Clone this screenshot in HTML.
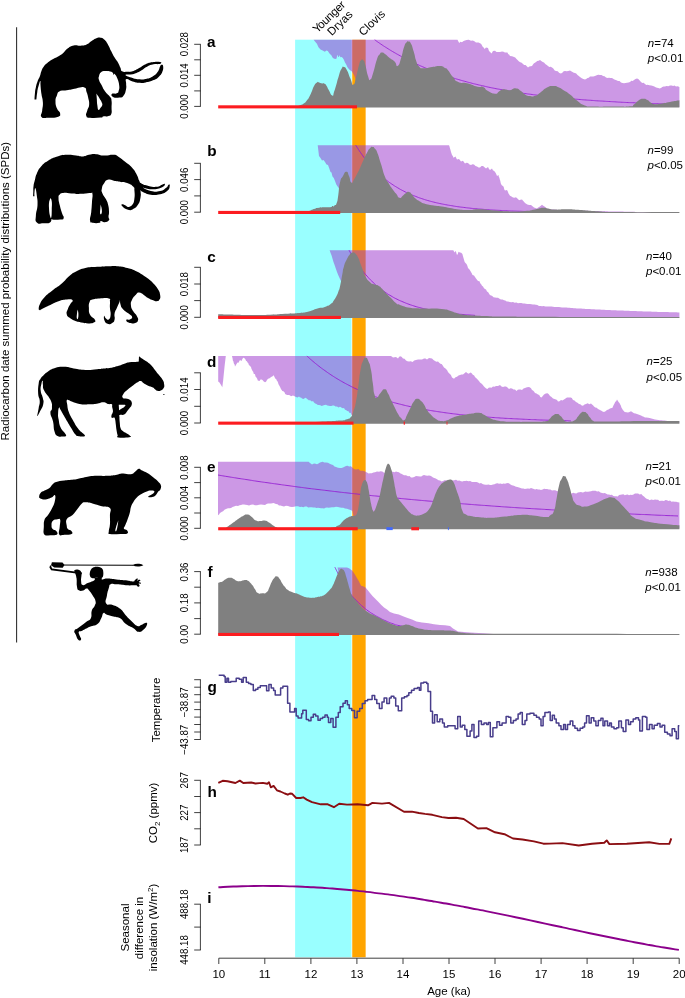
<!DOCTYPE html>
<html lang="en"><head><meta charset="utf-8"><title>Radiocarbon SPDs</title>
<style>html,body{margin:0;padding:0;background:#fff}svg{display:block}</style>
</head><body>
<svg width="685" height="998" viewBox="0 0 685 998" font-family="Liberation Sans, Arial, Helvetica, sans-serif">
<rect width="685" height="998" fill="#fff"/>
<rect x="295.1" y="39.7" width="56.4" height="917.6" fill="rgb(153,255,255)"/>
<rect x="352.25" y="39.7" width="13.4" height="917.6" fill="rgb(255,165,0)"/>
<g id="panel-a">
<polygon points="313.6,39.8 457.5,39.8 457.5,39.8 458.4,41.5 459.2,42.9 460.5,41.8 462.0,42.2 463.6,41.0 465.0,40.6 466.5,39.9 468.8,39.8 471.0,40.8 472.5,40.4 474.0,41.0 476.0,42.4 478.5,42.6 481.0,43.8 481.8,45.1 482.5,46.5 483.6,47.4 484.6,49.0 486.0,47.6 488.0,48.0 488.8,50.4 489.5,51.6 491.6,53.4 493.0,51.0 495.0,50.8 496.5,52.1 498.0,52.0 500.0,51.9 502.0,51.6 503.5,51.7 505.0,52.6 507.4,52.5 508.3,54.3 509.1,54.6 510.0,56.0 512.0,56.3 514.0,57.0 515.2,57.4 516.5,59.0 517.8,60.3 519.0,61.4 520.3,62.3 521.7,62.7 523.0,64.0 524.2,64.9 525.5,65.0 526.8,66.2 528.0,67.4 529.3,66.4 530.7,66.3 532.0,66.0 533.0,64.4 534.0,63.3 535.0,62.7 536.0,62.0 537.3,61.0 538.7,60.8 540.0,60.0 541.3,60.9 542.7,62.0 544.0,62.5 545.3,63.9 546.7,65.1 548.0,66.0 549.3,67.0 550.7,66.8 552.0,67.4 553.3,68.4 554.7,70.5 556.0,71.0 557.7,71.3 559.3,72.9 561.0,73.4 562.3,72.8 563.7,71.2 565.0,71.0 566.7,71.3 568.3,71.1 570.0,70.4 571.2,71.2 572.5,72.0 573.8,72.8 575.0,73.0 576.2,73.5 577.5,75.0 578.8,76.0 580.0,77.0 581.7,78.3 583.3,79.0 585.0,79.4 586.2,79.1 587.5,78.1 588.8,77.8 590.0,76.5 591.7,76.6 593.3,76.4 595.0,76.0 596.7,75.3 598.3,74.7 600.0,75.0 601.5,75.1 603.0,76.1 604.5,76.3 606.0,77.5 607.5,78.1 609.0,77.8 610.5,78.1 612.0,78.0 613.5,78.9 615.0,79.8 616.5,80.2 618.0,81.0 619.5,80.9 621.0,82.6 622.5,83.1 624.0,83.3 625.5,83.0 627.0,82.7 628.5,82.5 630.0,82.0 631.3,80.7 632.7,81.0 634.0,80.0 635.5,78.9 637.0,78.5 638.3,79.1 639.7,80.5 641.0,82.0 642.3,82.9 643.6,82.7 645.0,84.0 646.3,84.9 647.6,84.8 649.4,85.2 651.2,85.4 653.0,86.0 654.3,86.5 655.6,87.2 657.0,87.8 658.3,88.1 659.6,88.4 661.0,88.1 662.3,86.9 663.6,86.5 665.0,86.5 666.6,85.9 668.3,86.3 670.0,85.4 671.6,85.4 673.1,85.9 674.5,85.5 676.0,86.5 677.7,86.2 679.4,87.0 679.4,107.0 358.0,107.0 356.0,80.0 354.0,75.0 351.9,71.5 350.5,70.6 349.0,69.3 347.5,67.2 346.1,64.2 345.0,62.6 343.9,59.8 342.8,58.0 341.7,56.9 340.4,57.2 339.6,55.2 338.8,56.9 338.2,57.0 337.4,54.7 337.0,56.0 336.6,58.4 335.3,59.0 333.7,58.4 332.5,57.6 331.5,55.4 329.5,53.6 327.8,51.0 326.3,50.4 324.9,51.8 322.6,50.4 320.5,49.6 318.5,47.2 316.9,43.8 315.0,41.5 313.6,39.8" fill="rgb(153,50,204)" fill-opacity="0.5"/>
<path d="M374.7,39.8 C376.7,41.2 376.7,41.3 380.7,44.0 C384.7,46.7 382.7,45.4 386.7,47.9 C390.7,50.4 388.7,49.2 392.7,51.6 C396.7,53.9 394.7,52.8 398.7,55.0 C402.7,57.2 400.7,56.2 404.7,58.3 C408.7,60.3 406.7,59.3 410.7,61.3 C414.7,63.2 412.7,62.3 416.7,64.1 C420.7,66.0 418.7,65.1 422.7,66.8 C426.7,68.5 424.7,67.7 428.7,69.3 C432.7,70.9 430.7,70.1 434.7,71.6 C438.7,73.2 436.7,72.4 440.7,73.8 C444.7,75.3 442.7,74.6 446.7,75.9 C450.7,77.2 448.7,76.6 452.7,77.8 C456.7,79.1 454.7,78.5 458.7,79.6 C462.7,80.8 460.7,80.2 464.7,81.3 C468.7,82.4 466.7,81.9 470.7,82.9 C474.7,84.0 472.7,83.5 476.7,84.4 C480.7,85.4 478.7,84.9 482.7,85.8 C486.7,86.7 484.7,86.3 488.7,87.2 C492.7,88.0 490.7,87.6 494.7,88.4 C498.7,89.2 496.7,88.8 500.7,89.5 C504.7,90.3 502.7,89.9 506.7,90.6 C510.7,91.3 508.7,91.0 512.7,91.7 C516.7,92.3 514.7,92.0 518.7,92.6 C522.7,93.2 520.7,92.9 524.7,93.5 C528.7,94.1 526.7,93.8 530.7,94.3 C534.7,94.9 532.7,94.6 536.7,95.1 C540.7,95.6 538.7,95.4 542.7,95.9 C546.7,96.3 544.7,96.1 548.7,96.6 C552.7,97.0 550.7,96.8 554.7,97.2 C558.7,97.6 556.7,97.4 560.7,97.8 C564.7,98.2 562.7,98.0 566.7,98.4 C570.7,98.8 568.7,98.6 572.7,98.9 C576.7,99.3 574.7,99.1 578.7,99.4 C582.7,99.7 580.7,99.6 584.7,99.9 C588.7,100.2 586.7,100.1 590.7,100.3 C594.7,100.6 592.7,100.5 596.7,100.8 C600.7,101.0 598.7,100.9 602.7,101.1 C606.7,101.4 604.7,101.3 608.7,101.5 C612.7,101.7 610.7,101.6 614.7,101.8 C618.7,102.1 616.7,102.0 620.7,102.2 C624.7,102.4 622.7,102.3 626.7,102.5 C630.7,102.7 628.7,102.6 632.7,102.7 C636.7,102.9 634.7,102.8 638.7,103.0 C642.7,103.2 640.7,103.1 644.7,103.3 C648.7,103.4 646.7,103.3 650.7,103.5 C654.7,103.6 652.7,103.6 656.7,103.7 C660.7,103.9 658.7,103.8 662.7,103.9 C666.7,104.0 664.7,104.0 668.7,104.1 C672.7,104.2 672.7,104.2 674.7,104.3" fill="none" stroke="rgb(148,30,211)" stroke-width="0.9"/>
<path d="M297.0,106.5 C297.8,106.2 297.1,106.5 299.4,105.6 C301.7,104.6 301.3,105.3 303.8,103.6 C306.3,101.9 304.9,103.0 306.8,100.6 C308.7,98.2 307.9,99.5 309.6,96.3 C311.3,93.1 310.5,94.4 312.0,91.0 C313.5,87.6 312.4,89.0 314.0,86.1 C315.6,83.2 315.2,83.6 316.9,82.4 C318.6,81.2 317.5,82.1 319.0,82.4 C320.5,82.7 319.3,82.7 321.3,83.2 C323.3,83.7 323.1,82.9 324.9,83.9 C326.7,84.9 325.6,84.3 326.8,86.2 C328.0,88.1 326.8,86.6 328.6,89.7 C330.4,92.8 330.4,94.8 332.2,95.6 C334.0,96.4 332.8,95.2 334.0,92.0 C335.2,88.8 334.3,91.5 335.9,86.1 C337.5,80.7 336.9,81.7 338.8,75.9 C340.7,70.1 340.0,71.5 341.7,68.6 C343.4,65.7 342.2,66.6 343.9,67.1 C345.6,67.6 344.6,66.1 346.8,70.0 C349.0,73.9 348.3,73.9 350.5,78.8 C352.7,83.7 351.5,85.6 353.4,84.6 C355.3,83.6 354.4,82.7 356.3,75.9 C358.2,69.1 357.7,69.3 359.2,64.2 C360.7,59.1 359.8,62.2 360.8,60.6 C361.8,59.0 361.3,59.5 362.2,59.5 C363.1,59.5 362.6,59.0 363.6,60.6 C364.6,62.2 363.6,59.1 365.1,64.2 C366.6,69.3 366.3,70.8 368.0,75.9 C369.7,81.0 368.5,80.5 370.2,79.5 C371.9,78.5 370.9,79.6 373.1,73.0 C375.3,66.4 374.7,65.9 376.8,59.8 C378.9,53.7 377.8,57.0 379.5,54.6 C381.2,52.2 380.1,52.7 381.9,52.5 C383.7,52.3 382.8,52.5 385.0,54.0 C387.2,55.5 386.1,55.0 388.4,56.9 C390.7,58.8 389.8,57.9 392.0,59.6 C394.2,61.3 393.0,60.0 395.0,62.0 C397.0,64.0 395.8,67.4 397.9,65.7 C400.0,64.0 399.4,63.0 401.4,56.9 C403.4,50.8 402.3,52.1 404.0,47.3 C405.7,42.5 404.9,44.5 406.4,42.6 C407.9,40.7 406.9,41.2 408.4,41.6 C409.9,42.0 409.2,40.5 411.0,43.8 C412.8,47.1 411.9,45.8 413.7,51.6 C415.5,57.4 414.6,56.4 416.3,61.3 C418.0,66.2 416.6,63.9 418.9,66.2 C421.2,68.5 418.9,68.0 423.3,68.3 C427.7,68.6 426.4,67.8 432.0,67.0 C437.6,66.2 435.7,65.7 440.0,66.0 C444.3,66.3 442.4,66.7 445.0,68.0 C447.6,69.3 445.1,67.0 447.8,70.0 C450.5,73.0 449.5,73.0 453.0,77.0 C456.5,81.0 453.6,79.9 458.3,82.0 C463.0,84.1 460.6,81.6 467.0,83.2 C473.4,84.8 472.3,85.4 477.6,86.7 C482.9,88.0 479.5,85.6 483.0,87.0 C486.5,88.4 484.0,88.8 488.0,91.0 C492.0,93.2 491.3,93.5 495.0,93.7 C498.7,93.9 496.7,92.8 499.0,91.5 C501.3,90.2 499.7,90.3 502.0,89.7 C504.3,89.1 503.3,89.4 506.0,89.6 C508.7,89.8 506.7,90.6 510.0,90.2 C513.3,89.8 512.3,88.1 516.0,88.4 C519.7,88.7 518.0,89.0 521.0,91.0 C524.0,93.0 522.0,92.7 525.0,94.4 C528.0,96.1 526.5,95.5 530.0,96.0 C533.5,96.5 531.7,97.1 535.4,95.8 C539.1,94.5 537.1,94.8 541.0,92.0 C544.9,89.2 542.9,89.5 547.0,87.5 C551.1,85.5 549.3,86.0 553.3,86.0 C557.3,86.0 555.4,86.0 559.0,87.5 C562.6,89.0 560.3,88.2 564.0,90.5 C567.7,92.8 565.7,91.1 570.0,94.4 C574.3,97.7 572.1,96.8 577.0,100.5 C581.9,104.2 579.2,103.4 584.8,105.4 C590.4,107.4 583.6,106.1 593.7,106.5 C603.8,106.8 603.0,106.5 615.0,106.5 C627.0,106.4 623.4,107.0 629.7,106.3 C636.0,105.6 631.1,106.4 634.0,104.5 C636.9,102.6 635.5,102.4 638.5,100.5 C641.5,98.6 640.0,99.0 643.0,98.8 C646.0,98.6 644.8,98.7 647.5,100.0 C650.2,101.3 648.5,101.4 651.0,102.8 C653.5,104.2 651.3,104.0 655.0,104.2 C658.7,104.4 657.0,104.2 662.0,103.5 C667.0,102.8 664.2,103.1 670.0,102.0 C675.8,100.9 676.3,100.9 679.4,100.3 L679.4,107.4 L297.0,107.4 Z" fill="rgb(128,128,128)"/>
<rect x="218.2" y="105.3" width="138.8" height="3.1" fill="rgb(252,28,32)"/>
</g>
<g id="panel-b">
<polygon points="317.7,145.2 449.0,145.2 449.0,145.2 449.5,146.5 450.0,148.6 450.5,150.0 451.0,151.9 451.5,153.6 452.0,155.0 452.8,156.1 453.5,157.7 455.5,156.5 456.2,158.0 457.0,159.5 459.0,159.0 460.0,160.2 461.0,161.5 463.0,160.8 464.0,162.2 465.0,163.6 466.5,162.8 468.0,163.0 469.5,164.6 471.0,165.0 472.5,164.3 474.0,164.4 475.5,166.1 477.0,166.5 478.5,167.6 480.0,167.4 481.5,166.0 483.0,166.0 484.5,167.2 486.0,168.5 488.0,167.0 489.0,168.9 490.0,170.0 492.0,168.6 493.0,170.4 494.0,170.8 495.0,172.0 495.7,173.0 496.3,174.3 497.0,176.0 498.5,175.0 498.9,177.1 499.3,177.6 499.8,179.6 500.2,180.5 500.6,182.5 501.0,184.0 502.0,185.6 503.0,186.0 503.7,187.0 504.3,189.4 505.0,190.5 507.0,190.0 507.8,191.5 508.5,193.4 509.2,194.6 510.0,195.8 511.5,196.5 513.0,197.6 514.5,197.7 516.0,197.2 517.0,198.2 518.0,199.0 519.0,200.3 520.5,199.7 522.0,199.6 523.0,200.7 524.0,201.8 525.0,203.0 526.5,203.9 528.0,204.8 529.5,204.9 531.0,205.0 532.5,206.3 534.0,207.6 535.5,208.0 537.0,208.4 538.2,207.6 539.5,206.8 540.8,205.8 542.0,204.8 543.2,205.7 544.5,206.5 545.8,207.6 547.0,208.6 549.0,209.3 550.6,209.4 552.1,209.5 553.7,209.6 555.3,209.7 556.9,209.8 558.4,209.9 560.0,210.0 561.4,210.0 562.9,210.1 564.3,210.1 565.7,210.2 567.1,210.2 568.6,210.3 570.0,210.3 571.4,210.3 572.9,210.4 574.3,210.4 575.7,210.5 577.1,210.5 578.6,210.6 580.0,210.6 581.4,210.6 582.9,210.7 584.3,210.7 585.7,210.8 587.1,210.8 588.6,210.8 590.0,210.9 591.4,210.9 592.9,210.9 594.3,211.0 595.7,211.0 597.1,211.1 598.6,211.1 600.0,211.1 601.4,211.2 602.9,211.2 604.3,211.2 605.7,211.3 607.1,211.3 608.6,211.4 610.0,211.4 611.4,211.4 612.8,211.5 614.3,211.5 615.7,211.5 617.1,211.5 618.5,211.6 619.9,211.6 621.3,211.6 622.8,211.6 624.2,211.7 625.6,211.7 627.0,211.7 628.4,211.7 629.8,211.8 631.3,211.8 632.7,211.8 634.1,211.8 635.5,211.9 636.9,211.9 638.3,211.9 639.8,211.9 641.2,212.0 642.6,212.0 644.0,212.0 645.4,212.0 646.8,212.1 648.3,212.1 649.7,212.1 651.1,212.1 652.5,212.2 653.9,212.2 655.3,212.2 656.8,212.2 658.2,212.3 659.6,212.3 679.4,212.6 341.0,212.6 339.5,189.0 338.0,187.0 336.3,184.5 335.0,181.0 333.8,178.0 332.5,176.5 331.5,172.5 330.5,172.0 329.3,168.5 328.0,165.0 326.5,164.6 325.0,162.0 323.5,160.0 322.0,160.5 320.5,158.0 319.0,156.0 318.3,150.0 317.7,145.2" fill="rgb(153,50,204)" fill-opacity="0.5"/>
<path d="M355.7,145.2 C357.7,148.2 357.7,148.6 361.7,154.2 C365.7,159.8 363.7,157.1 367.7,161.9 C371.7,166.8 369.7,164.5 373.7,168.7 C377.7,172.9 375.7,170.9 379.7,174.5 C383.7,178.2 381.7,176.4 385.7,179.6 C389.7,182.7 387.7,181.3 391.7,184.0 C395.7,186.7 393.7,185.4 397.7,187.8 C401.7,190.2 399.7,189.0 403.7,191.1 C407.7,193.2 405.7,192.2 409.7,194.0 C413.7,195.7 411.7,194.9 415.7,196.4 C419.7,198.0 417.7,197.3 421.7,198.6 C425.7,199.9 423.7,199.3 427.7,200.5 C431.7,201.6 429.7,201.1 433.7,202.1 C437.7,203.1 435.7,202.6 439.7,203.5 C443.7,204.3 441.7,203.9 445.7,204.7 C449.7,205.4 447.7,205.1 451.7,205.7 C455.7,206.4 453.7,206.1 457.7,206.7 C461.7,207.2 459.7,207.0 463.7,207.4 C467.7,207.9 465.7,207.7 469.7,208.1 C473.7,208.6 471.7,208.4 475.7,208.7 C479.7,209.1 477.7,208.9 481.7,209.2 C485.7,209.6 483.7,209.4 487.7,209.7 C491.7,210.0 489.7,209.8 493.7,210.1 C497.7,210.3 495.7,210.2 499.7,210.4 C503.7,210.6 501.7,210.5 505.7,210.7 C509.7,210.9 507.7,210.8 511.7,211.0 C515.7,211.1 513.7,211.0 517.7,211.2 C521.7,211.3 519.7,211.2 523.7,211.4 C527.7,211.5 525.7,211.4 529.7,211.5 C533.7,211.6 531.7,211.6 535.7,211.7 C539.7,211.8 537.7,211.7 541.7,211.8 C545.7,211.9 543.7,211.8 547.7,211.9 C551.7,212.0 549.7,211.9 553.7,212.0 C557.7,212.1 555.7,212.0 559.7,212.1 C563.7,212.1 561.7,212.1 565.7,212.1 C569.7,212.2 567.7,212.2 571.7,212.2 C575.7,212.2 573.7,212.2 577.7,212.3 C581.7,212.3 579.7,212.3 583.7,212.3 C587.7,212.3 585.7,212.3 589.7,212.3 C593.7,212.4 593.7,212.4 595.7,212.4" fill="none" stroke="rgb(148,30,211)" stroke-width="0.9"/>
<path d="M305.0,212.0 C306.3,211.7 306.0,212.0 309.0,211.0 C312.0,210.0 310.7,210.1 314.0,209.0 C317.3,207.9 315.3,208.3 319.0,207.7 C322.7,207.1 321.0,207.4 325.0,207.2 C329.0,207.0 327.8,207.6 331.0,207.0 C334.2,206.4 332.6,206.8 334.5,205.5 C336.4,204.2 335.4,206.5 336.7,203.0 C338.0,199.5 337.2,201.8 338.3,195.0 C339.4,188.2 338.4,188.8 340.0,182.5 C341.6,176.2 340.9,179.6 343.0,176.0 C345.1,172.4 344.4,171.8 346.4,171.8 C348.4,171.8 347.4,172.4 349.0,176.0 C350.6,179.6 349.6,181.3 351.3,182.5 C353.0,183.7 352.1,182.3 354.0,179.5 C355.9,176.7 355.0,177.8 357.0,174.0 C359.0,170.2 357.8,172.8 360.0,168.0 C362.2,163.2 361.2,164.8 363.7,159.5 C366.2,154.2 365.3,155.7 367.4,152.0 C369.5,148.3 368.3,150.0 370.0,148.3 C371.7,146.6 370.9,146.8 372.6,147.0 C374.3,147.2 373.3,146.7 375.0,148.8 C376.7,150.9 375.6,148.3 377.6,153.4 C379.6,158.5 378.5,156.2 381.0,164.0 C383.5,171.8 382.5,170.4 385.0,176.7 C387.5,183.0 386.2,179.1 388.5,183.0 C390.8,186.9 389.5,184.9 392.0,188.4 C394.5,191.9 393.5,190.4 396.0,193.5 C398.5,196.6 397.2,197.0 399.5,197.7 C401.8,198.4 400.8,197.1 403.0,195.5 C405.2,193.9 404.0,194.2 406.0,193.0 C408.0,191.8 407.0,191.5 409.0,192.0 C411.0,192.5 409.8,192.3 412.0,194.5 C414.2,196.7 412.8,196.3 415.5,198.6 C418.2,200.9 417.1,199.8 420.0,201.5 C422.9,203.2 420.3,202.3 424.3,203.6 C428.3,204.9 426.2,204.3 432.0,205.3 C437.8,206.3 435.8,205.6 441.8,206.5 C447.8,207.4 444.3,207.0 450.0,208.0 C455.7,209.0 452.3,208.7 459.0,209.4 C465.7,210.1 463.0,210.0 470.0,210.0 C477.0,210.0 471.7,209.1 480.0,209.3 C488.3,209.5 485.0,209.9 495.0,210.6 C505.0,211.3 500.0,211.3 510.0,211.4 C520.0,211.5 516.7,211.6 525.0,211.0 C533.3,210.4 529.0,210.6 535.0,209.5 C541.0,208.4 538.7,208.1 543.0,207.8 C547.3,207.5 544.0,207.9 548.0,208.5 C552.0,209.1 548.7,209.3 555.0,209.6 C561.3,209.9 558.7,209.2 567.0,209.3 C575.3,209.4 569.0,209.3 580.0,210.0 C591.0,210.7 586.7,210.7 600.0,211.4 C613.3,212.1 593.5,211.8 620.0,212.0 C646.5,212.3 659.6,212.0 679.4,212.0 L679.4,213.0 L305.0,213.0 Z" fill="rgb(128,128,128)"/>
<rect x="218.2" y="210.9" width="122.0" height="3.1" fill="rgb(252,28,32)"/>
</g>
<g id="panel-c">
<polygon points="329.6,250.2 453.3,250.2 453.3,250.2 454.5,252.5 455.5,251.0 456.0,251.7 456.5,253.4 457.0,255.0 457.8,254.1 458.5,251.8 460.0,252.5 461.2,252.7 462.4,254.0 462.9,256.0 463.5,258.0 464.0,259.7 464.5,261.5 465.0,262.5 466.5,264.0 467.0,264.9 467.5,266.3 468.0,268.0 469.5,269.5 470.7,271.6 471.6,272.9 472.5,275.0 474.0,275.5 475.0,276.9 476.0,278.6 477.0,279.7 478.0,281.0 479.5,281.2 480.2,283.2 481.0,284.0 482.0,285.7 483.0,286.5 484.0,288.3 485.0,289.0 486.0,289.6 487.0,291.5 488.2,292.3 489.5,294.5 490.8,295.4 492.0,295.8 493.5,297.3 495.0,297.6 496.5,297.7 498.0,297.8 499.5,298.8 501.0,299.6 502.5,299.4 504.0,300.2 505.3,300.6 506.7,301.5 508.0,301.6 509.7,302.0 511.3,302.2 513.0,302.0 514.7,302.8 516.3,302.6 518.0,303.2 519.7,303.0 521.3,303.1 523.0,303.4 524.4,303.5 525.8,303.8 527.2,304.1 528.6,304.0 530.0,304.0 531.5,304.3 532.9,304.6 534.4,304.6 535.8,304.8 537.3,305.0 539.0,306.0 540.6,305.9 542.1,306.3 543.7,306.1 545.3,306.5 546.9,306.5 548.4,306.4 550.0,306.6 551.5,306.6 553.0,306.7 554.5,307.0 556.0,307.1 557.5,307.0 559.0,307.1 560.5,307.3 562.0,307.4 563.5,307.5 565.0,307.6 566.5,307.6 567.9,307.8 569.4,307.7 570.9,307.9 572.3,308.1 573.8,308.3 575.3,308.3 576.7,308.4 578.2,308.4 579.7,308.5 581.1,308.6 582.6,308.8 584.1,308.8 585.5,308.9 587.0,309.0 588.4,309.0 589.9,309.1 591.3,309.2 592.8,309.3 594.2,309.3 595.6,309.4 597.1,309.5 598.5,309.5 599.9,309.6 601.4,309.7 602.8,309.7 604.2,309.8 605.7,309.9 607.1,310.0 608.6,310.0 610.0,310.1 611.4,310.2 612.9,310.2 614.3,310.3 615.8,310.3 617.2,310.4 618.6,310.4 620.1,310.5 621.5,310.6 622.9,310.6 624.4,310.7 625.8,310.7 627.2,310.8 628.7,310.8 630.1,310.9 631.6,310.9 633.0,311.0 634.5,311.1 635.9,311.1 637.4,311.2 638.9,311.2 640.3,311.3 641.8,311.3 643.3,311.4 644.7,311.4 646.2,311.5 647.7,311.5 649.1,311.6 650.6,311.6 652.1,311.7 653.5,311.7 655.0,311.8 656.4,311.8 657.9,311.9 659.3,311.9 660.7,311.9 662.2,312.0 663.6,312.0 665.0,312.0 666.5,312.1 667.9,312.1 669.4,312.2 670.8,312.2 672.2,312.2 673.7,312.3 675.1,312.3 676.5,312.3 678.0,312.4 679.4,312.4 679.4,317.6 343.0,317.6 341.5,282.0 340.0,279.0 338.2,275.0 337.0,272.0 335.8,268.5 334.6,265.0 333.5,262.0 332.6,259.0 331.6,255.6 330.6,253.0 329.6,250.2" fill="rgb(153,50,204)" fill-opacity="0.5"/>
<path d="M349.0,250.2 C351.0,253.6 351.0,254.1 355.0,260.3 C359.0,266.5 357.0,263.6 361.0,268.9 C365.0,274.1 363.0,271.6 367.0,276.1 C371.0,280.6 369.0,278.5 373.0,282.3 C377.0,286.2 375.0,284.4 379.0,287.6 C383.0,290.9 381.0,289.3 385.0,292.1 C389.0,294.9 387.0,293.6 391.0,295.9 C395.0,298.3 393.0,297.2 397.0,299.2 C401.0,301.2 399.0,300.2 403.0,301.9 C407.0,303.6 405.0,302.8 409.0,304.3 C413.0,305.7 411.0,305.0 415.0,306.3 C419.0,307.5 417.0,306.9 421.0,308.0 C425.0,309.0 423.0,308.5 427.0,309.4 C431.0,310.3 429.0,309.9 433.0,310.6 C437.0,311.4 435.0,311.0 439.0,311.7 C443.0,312.3 441.0,312.0 445.0,312.6 C449.0,313.1 447.0,312.8 451.0,313.3 C455.0,313.8 453.0,313.6 457.0,314.0 C461.0,314.3 459.0,314.2 463.0,314.5 C467.0,314.8 465.0,314.7 469.0,315.0 C473.0,315.2 473.0,315.2 475.0,315.4" fill="none" stroke="rgb(148,30,211)" stroke-width="0.9"/>
<path d="M218.2,314.2 C222.1,314.3 222.1,314.3 230.0,314.6 C237.9,314.9 233.3,314.9 242.0,315.0 C250.7,315.1 246.7,315.1 256.0,315.0 C265.3,314.9 260.3,315.2 270.0,314.8 C279.7,314.4 276.0,314.3 285.0,313.8 C294.0,313.3 292.0,313.5 297.0,313.2 C302.0,312.9 296.1,313.5 300.0,312.9 C303.9,312.3 303.0,312.9 308.8,311.4 C314.6,309.9 312.2,310.0 317.5,308.5 C322.8,307.0 320.4,308.5 324.8,307.0 C329.2,305.5 327.7,306.2 330.7,304.1 C333.7,302.0 331.9,303.3 333.8,300.6 C335.7,297.9 335.0,299.1 336.5,296.1 C338.0,293.1 337.2,294.9 338.4,291.5 C339.6,288.1 338.8,291.7 340.1,285.9 C341.4,280.1 341.1,280.5 342.3,274.2 C343.5,267.9 342.3,271.8 343.8,266.9 C345.3,262.0 344.5,264.0 346.7,259.6 C348.9,255.2 348.5,256.1 350.4,253.8 C352.3,251.5 351.1,253.2 352.3,252.8 C353.5,252.4 352.7,252.0 354.0,252.6 C355.3,253.2 354.7,252.7 356.2,254.5 C357.7,256.3 356.9,254.9 358.4,258.1 C359.9,261.3 359.1,260.1 360.6,264.0 C362.1,267.9 361.1,265.4 362.8,269.8 C364.5,274.2 363.3,273.0 365.7,277.1 C368.1,281.2 367.7,279.9 370.1,282.2 C372.5,284.5 370.1,282.9 373.0,284.1 C375.9,285.3 375.9,284.4 378.8,285.9 C381.7,287.4 379.8,286.6 381.8,288.5 C383.8,290.4 381.8,288.7 384.7,291.7 C387.6,294.7 386.6,293.7 390.5,297.6 C394.4,301.5 393.2,301.0 396.4,303.4 C399.6,305.8 395.5,303.4 400.0,304.9 C404.5,306.4 404.3,306.7 410.0,307.8 C415.7,308.9 412.0,308.0 417.0,308.3 C422.0,308.6 416.8,308.4 425.0,308.6 C433.2,308.8 433.3,308.3 441.6,309.0 C449.9,309.7 445.2,309.4 450.0,310.7 C454.8,312.0 451.9,311.5 456.0,312.8 C460.1,314.1 456.1,313.6 462.4,314.5 C468.7,315.4 465.8,315.0 475.0,315.6 C484.2,316.2 480.3,315.9 490.0,316.2 C499.7,316.5 480.7,316.3 504.0,316.5 C527.3,316.7 501.5,316.7 560.0,316.9 C618.5,317.1 639.6,317.0 679.4,317.1 L679.4,318.0 L218.2,318.0 Z" fill="rgb(128,128,128)"/>
<rect x="218.2" y="315.9" width="122.7" height="3.1" fill="rgb(252,28,32)"/>
</g>
<g id="panel-d">
<polygon points="218.2,356.0 218.2,381.5 219.5,382.5 221.0,385.0 222.3,387.2 223.2,380.0 224.6,366.0 225.8,356.0" fill="rgb(153,50,204)" fill-opacity="0.5"/>
<polygon points="232.0,356.0 232.2,356.9 232.5,357.9 232.8,360.0 233.0,361.0 233.4,361.3 233.8,363.3 234.2,364.1 234.6,364.6 235.0,366.5 235.8,365.3 236.5,364.0 237.5,362.6 238.5,362.8 239.2,361.3 240.0,360.0 241.5,361.0 242.3,359.2 243.0,358.1 243.8,357.8 244.7,358.6 245.5,359.6 246.2,361.2 246.8,360.9 247.5,362.5 248.2,363.0 248.8,364.7 249.5,365.4 251.0,367.0 251.5,369.1 252.0,369.8 252.5,371.0 253.2,371.8 253.8,373.9 254.5,374.0 255.0,374.2 255.5,376.6 256.0,377.0 256.6,377.8 257.2,378.7 257.8,380.5 259.5,381.0 260.5,379.6 261.5,379.6 262.5,380.1 263.5,381.2 265.0,382.3 266.0,381.7 267.0,380.0 268.0,378.7 269.0,378.6 270.0,377.9 271.0,377.0 272.3,376.4 273.6,375.3 274.3,376.4 275.0,378.0 275.7,379.1 276.3,379.2 277.0,381.0 277.5,381.2 278.0,382.5 278.5,384.3 279.0,385.0 279.5,385.9 280.0,386.7 280.5,388.0 281.1,389.2 281.7,389.9 282.3,391.0 283.4,391.2 284.5,392.2 285.2,393.9 286.0,394.5 287.2,395.1 288.5,395.0 289.8,395.2 291.0,396.3 293.0,395.4 294.0,396.1 295.0,396.5 296.0,397.0 297.5,397.4 299.0,396.4 300.0,397.5 301.0,397.4 302.0,398.4 303.5,399.1 305.0,398.0 306.0,397.8 307.0,398.9 308.0,399.6 309.0,400.5 310.0,399.9 311.0,401.0 312.0,401.4 313.0,401.1 314.0,402.4 315.2,403.5 316.5,404.0 317.8,405.0 319.0,405.0 320.3,405.3 321.7,406.1 323.0,405.6 324.5,404.9 326.0,404.8 327.3,405.6 328.7,405.8 330.0,406.0 331.3,405.9 332.7,405.5 334.0,405.4 335.5,406.6 337.0,406.6 338.5,407.5 340.0,406.8 341.0,407.2 342.0,408.0 343.0,408.2 344.0,408.0 345.0,409.8 346.0,410.0 347.2,410.9 348.5,411.3 349.6,412.9 350.7,412.8 351.4,414.7 352.0,415.5 352.8,416.1 353.5,417.5 353.9,418.6 354.2,420.4 354.6,420.5 355.0,422.6 679.4,422.6 679.4,421.7 677.9,421.6 676.4,421.5 675.0,421.5 673.5,421.4 672.0,421.3 670.5,421.1 669.0,421.0 667.5,420.9 666.0,420.7 664.5,420.6 663.0,420.4 661.5,420.3 660.0,420.2 658.3,419.9 656.7,419.7 655.0,419.4 653.2,418.9 651.4,418.5 649.6,418.0 648.1,417.8 646.5,417.6 645.0,417.4 643.7,416.8 642.3,416.2 641.0,415.6 639.7,415.0 638.3,414.5 637.0,414.0 635.5,413.5 634.0,413.2 632.5,412.3 631.0,411.2 629.5,411.9 628.0,412.4 626.4,412.3 624.7,412.0 623.8,411.0 622.9,410.0 622.0,408.5 621.4,407.4 620.8,405.5 620.1,404.2 619.5,403.0 618.7,402.2 617.8,400.7 617.0,399.5 616.2,401.2 615.3,401.7 614.5,403.5 613.8,404.8 613.2,406.1 612.5,407.8 610.0,408.6 608.5,409.4 607.0,410.0 605.5,411.2 604.0,412.0 602.5,411.5 601.0,410.6 599.5,409.8 598.0,409.0 596.7,407.8 595.3,407.4 594.0,406.6 593.0,405.2 592.0,404.6 591.0,403.6 589.3,404.3 587.7,403.3 586.0,404.0 584.5,404.5 583.0,405.7 581.7,405.5 580.3,404.3 579.0,404.0 577.5,402.8 576.0,402.0 574.5,400.4 573.0,400.0 571.8,398.1 570.6,397.4 568.8,397.5 567.0,397.6 565.5,398.5 564.0,399.4 562.5,400.4 561.0,400.0 559.5,401.3 558.0,401.6 557.0,400.1 556.0,399.6 554.5,398.9 553.0,398.6 551.5,397.1 550.0,396.0 548.8,394.3 547.5,393.3 545.8,393.4 544.0,394.5 542.8,396.1 541.5,397.4 540.3,397.0 539.2,394.9 538.0,394.6 536.5,393.6 535.0,393.0 534.0,391.4 533.0,390.5 532.0,390.0 531.0,388.3 530.0,387.4 529.0,387.0 527.0,387.3 525.0,388.0 523.5,388.5 522.0,390.0 520.5,389.4 519.0,389.6 517.8,389.7 516.5,391.0 515.0,389.6 513.5,389.6 512.0,388.6 510.5,388.2 509.0,389.0 507.5,387.6 506.0,386.5 504.5,386.6 503.0,387.0 501.5,386.4 500.0,385.0 498.0,386.0 496.0,386.0 494.5,386.7 493.0,386.6 491.5,387.7 490.0,387.6 488.7,387.7 487.4,389.0 486.2,388.4 485.0,387.4 484.0,386.4 483.0,385.2 482.0,384.0 481.0,383.3 480.0,382.6 479.0,381.0 478.0,380.1 477.0,378.8 476.0,378.0 475.0,376.9 474.0,375.3 473.0,375.0 471.9,373.4 470.7,372.4 468.5,373.8 467.2,373.0 466.0,372.0 464.5,373.3 463.0,374.6 461.5,374.4 460.0,375.0 458.5,375.5 457.0,376.8 455.5,377.3 454.0,378.7 452.0,377.6 451.0,375.3 450.0,374.0 449.0,373.3 448.0,371.9 447.0,370.0 445.5,368.6 444.0,367.6 443.2,366.3 442.4,364.9 441.6,364.0 440.4,363.7 439.2,362.8 438.0,361.6 436.5,361.8 435.0,361.0 433.5,359.9 432.0,358.6 430.5,358.2 429.0,358.0 427.0,359.4 425.5,358.4 424.0,358.6 422.0,359.6 420.0,359.6 418.0,359.6 416.0,360.0 414.2,360.6 412.5,362.0 410.8,361.2 409.0,361.5 407.5,361.3 406.0,360.4 404.5,358.8 403.0,358.4 401.5,356.8 400.0,356.2 399.0,356.9 398.0,358.6 396.0,357.0 394.5,357.2 393.0,357.5 391.0,356.0" fill="rgb(153,50,204)" fill-opacity="0.5"/>
<path d="M306.9,356.0 C308.9,357.8 308.9,357.9 312.9,361.3 C316.9,364.7 314.9,363.0 318.9,366.2 C322.9,369.3 320.9,367.8 324.9,370.6 C328.9,373.5 326.9,372.1 330.9,374.8 C334.9,377.4 332.9,376.1 336.9,378.6 C340.9,381.0 338.9,379.8 342.9,382.1 C346.9,384.3 344.9,383.2 348.9,385.3 C352.9,387.4 350.9,386.4 354.9,388.3 C358.9,390.2 356.9,389.2 360.9,391.0 C364.9,392.7 362.9,391.9 366.9,393.5 C370.9,395.1 368.9,394.3 372.9,395.8 C376.9,397.3 374.9,396.6 378.9,397.9 C382.9,399.3 380.9,398.6 384.9,399.9 C388.9,401.2 386.9,400.6 390.9,401.7 C394.9,402.9 392.9,402.3 396.9,403.4 C400.9,404.4 398.9,403.9 402.9,404.9 C406.9,405.9 404.9,405.4 408.9,406.3 C412.9,407.2 410.9,406.8 414.9,407.6 C418.9,408.4 416.9,408.0 420.9,408.8 C424.9,409.6 422.9,409.2 426.9,409.9 C430.9,410.6 428.9,410.2 432.9,410.9 C436.9,411.5 434.9,411.2 438.9,411.8 C442.9,412.4 440.9,412.1 444.9,412.7 C448.9,413.2 446.9,413.0 450.9,413.5 C454.9,414.0 452.9,413.7 456.9,414.2 C460.9,414.7 458.9,414.4 462.9,414.9 C466.9,415.3 464.9,415.1 468.9,415.5 C472.9,415.9 470.9,415.7 474.9,416.0 C478.9,416.4 476.9,416.2 480.9,416.6 C484.9,416.9 482.9,416.7 486.9,417.0 C490.9,417.4 488.9,417.2 492.9,417.5 C496.9,417.8 494.9,417.6 498.9,417.9 C502.9,418.2 500.9,418.0 504.9,418.3 C508.9,418.5 506.9,418.4 510.9,418.6 C514.9,418.8 512.9,418.7 516.9,418.9 C520.9,419.1 518.9,419.0 522.9,419.2 C526.9,419.4 524.9,419.3 528.9,419.5 C532.9,419.7 530.9,419.6 534.9,419.7 C538.9,419.9 536.9,419.8 540.9,420.0 C544.9,420.1 542.9,420.0 546.9,420.2 C550.9,420.3 548.9,420.2 552.9,420.4 C556.9,420.5 554.9,420.4 558.9,420.5 C562.9,420.7 560.9,420.6 564.9,420.7 C568.9,420.8 568.9,420.8 570.9,420.9" fill="none" stroke="rgb(148,30,211)" stroke-width="0.9"/>
<path d="M300.0,422.3 C306.7,422.1 306.7,422.3 320.0,421.7 C333.3,421.1 331.3,421.2 340.0,420.5 C348.7,419.8 342.4,420.6 346.0,419.5 C349.6,418.4 348.2,420.1 350.7,417.3 C353.2,414.5 351.7,416.2 353.5,411.0 C355.3,405.8 354.4,409.9 356.0,401.6 C357.6,393.3 356.8,396.5 358.3,386.0 C359.8,375.5 358.9,378.3 360.5,370.0 C362.1,361.7 361.3,365.1 363.0,361.0 C364.7,356.9 363.9,357.6 365.7,357.8 C367.5,358.0 366.7,357.4 368.5,361.5 C370.3,365.6 369.6,362.8 371.0,370.0 C372.4,377.2 371.6,374.8 372.8,383.0 C374.0,391.2 373.1,389.8 374.5,394.6 C375.9,399.4 375.0,397.9 377.0,397.4 C379.0,396.9 377.9,395.7 380.5,393.0 C383.1,390.3 382.2,389.1 384.7,389.3 C387.2,389.5 385.9,390.0 388.0,393.5 C390.1,397.0 388.8,395.3 391.0,399.8 C393.2,404.3 392.2,402.3 394.5,407.0 C396.8,411.7 395.8,410.1 398.0,413.8 C400.2,417.5 398.9,415.9 401.0,418.0 C403.1,420.1 402.3,421.0 404.3,420.0 C406.3,419.0 405.0,418.8 407.0,415.0 C409.0,411.2 408.0,412.9 410.2,408.6 C412.4,404.3 411.1,405.3 413.5,402.0 C415.9,398.7 414.8,399.0 417.3,398.7 C419.8,398.4 418.8,399.1 421.0,401.0 C423.2,402.9 422.0,401.5 424.0,404.5 C426.0,407.5 424.7,406.6 427.0,410.0 C429.3,413.4 428.0,411.8 431.0,414.8 C434.0,417.8 432.5,416.9 436.0,419.0 C439.5,421.1 437.9,420.6 441.6,421.0 C445.3,421.4 443.5,421.3 447.0,420.3 C450.5,419.3 448.3,419.4 452.0,418.0 C455.7,416.6 453.7,417.1 458.0,416.0 C462.3,414.9 460.3,415.6 465.0,414.8 C469.7,414.0 467.3,414.3 472.0,413.6 C476.7,412.9 475.0,412.4 479.0,412.8 C483.0,413.2 480.5,413.1 484.0,414.8 C487.5,416.5 485.2,416.1 489.5,418.0 C493.8,419.9 491.8,419.3 497.0,420.4 C502.2,421.5 500.0,420.9 505.0,421.4 C510.0,421.9 503.7,421.7 512.0,421.8 C520.3,421.9 518.8,422.0 530.0,421.8 C541.2,421.6 539.3,422.0 545.6,421.2 C551.9,420.4 546.5,421.4 549.0,419.5 C551.5,417.6 550.4,417.4 553.0,415.6 C555.6,413.8 554.4,413.9 556.9,414.0 C559.4,414.1 558.3,414.2 560.5,416.0 C562.7,417.8 561.7,417.7 563.5,419.5 C565.3,421.3 563.8,420.8 566.0,421.5 C568.2,422.2 567.1,422.0 570.0,421.6 C572.9,421.2 572.0,422.0 574.7,420.3 C577.4,418.6 575.9,418.9 578.0,416.5 C580.1,414.1 579.0,414.5 581.0,413.0 C583.0,411.5 582.0,411.8 584.0,412.0 C586.0,412.2 585.0,411.6 587.0,413.5 C589.0,415.4 587.8,415.1 590.0,417.6 C592.2,420.1 590.8,419.7 593.5,421.0 C596.2,422.3 585.8,421.5 598.0,421.6 C610.2,421.7 609.3,421.4 630.0,421.2 C650.7,421.0 643.5,421.1 660.0,421.1 C676.5,421.1 672.9,421.1 679.4,421.1 L679.4,423.7 L300.0,423.7 Z" fill="rgb(128,128,128)"/>
<rect x="218.2" y="421.6" width="135.3" height="3.1" fill="rgb(252,28,32)"/>
<rect x="403.7" y="421.6" width="1.2" height="3.1" fill="rgb(252,28,32)"/>
<rect x="446.6" y="421.6" width="0.8" height="3.1" fill="rgb(252,28,32)"/>
</g>
<g id="panel-e">
<polygon points="218.0,461.7 308.6,461.7 308.6,461.7 310.0,463.0 312.0,464.5 314.0,463.4 315.5,463.8 317.0,464.2 318.5,463.6 320.0,462.6 322.6,461.7 324.3,462.5 326.0,462.5 327.9,462.7 329.7,463.8 331.4,464.6 333.0,465.0 334.5,466.5 336.0,467.0 338.0,467.8 340.0,468.0 341.5,468.1 343.0,467.6 344.5,466.8 346.0,466.0 347.6,465.7 349.1,466.5 350.7,466.3 351.9,467.1 353.0,468.3 354.5,469.3 356.0,469.6 358.5,469.0 359.8,470.5 361.0,470.8 362.5,470.8 364.0,471.0 365.5,471.7 367.0,472.6 368.6,473.4 370.1,473.3 371.7,473.3 373.4,472.4 375.0,472.2 377.0,471.5 379.0,471.7 380.6,471.2 382.3,471.5 384.1,472.7 386.0,473.0 387.3,472.7 388.7,471.2 390.0,471.0 391.5,471.8 393.0,471.8 394.5,472.2 396.0,471.5 397.5,472.1 399.0,472.3 400.0,473.3 401.3,473.8 402.7,474.6 404.0,475.2 406.0,475.3 408.0,476.3 409.5,476.1 411.0,477.6 412.5,477.4 414.2,476.9 416.0,476.0 418.0,476.3 420.0,476.6 421.3,476.6 422.7,475.5 424.0,475.0 425.7,475.6 427.3,475.7 429.0,475.4 430.3,475.8 431.7,476.6 433.0,477.6 434.3,477.9 435.7,478.4 437.0,479.3 438.5,480.2 440.1,480.5 441.6,481.6 443.1,481.0 444.5,480.2 446.0,480.2 447.7,481.0 449.3,480.6 451.0,481.0 452.7,480.5 454.3,480.3 456.0,479.8 457.7,480.8 459.3,480.6 461.0,481.2 462.4,481.6 463.8,481.0 465.2,480.9 466.6,480.8 468.4,481.2 470.2,481.0 472.0,482.0 473.5,482.1 475.0,481.9 476.5,481.9 478.0,482.6 479.5,483.4 481.0,483.1 482.5,483.9 484.0,484.4 485.5,484.8 487.0,484.7 488.5,484.6 490.0,484.9 491.5,485.0 493.0,484.6 494.5,484.3 496.0,483.5 497.5,483.2 499.0,483.8 500.5,483.6 502.0,484.0 503.5,483.5 505.0,483.8 506.5,483.2 508.0,482.9 509.2,483.6 510.5,484.5 511.8,485.3 513.0,485.5 514.5,486.0 516.0,486.7 517.5,487.1 519.0,487.6 520.5,488.0 521.9,488.5 523.3,488.6 524.8,489.0 526.3,488.8 527.9,488.5 529.5,488.8 531.0,488.0 532.4,488.6 533.8,489.1 535.2,489.5 536.6,489.0 538.0,489.6 539.5,489.6 541.0,489.9 542.6,489.6 544.1,488.7 545.6,489.0 547.2,488.9 548.8,489.6 550.4,489.5 552.0,490.4 553.6,490.3 555.2,490.2 556.8,491.1 558.4,491.5 560.0,491.3 561.4,492.0 562.8,491.4 564.2,492.3 565.6,492.5 567.0,492.6 568.5,492.3 570.1,493.3 571.6,493.6 573.2,492.8 574.7,493.3 576.3,493.5 577.9,492.5 579.4,492.3 581.0,492.0 582.4,492.5 583.8,492.3 585.2,491.5 586.6,491.8 588.0,491.8 589.5,491.6 591.0,491.2 592.5,490.8 594.0,490.8 595.5,490.8 597.1,491.6 598.8,491.3 600.4,492.5 602.0,493.0 603.4,493.2 604.8,493.1 606.2,493.8 607.6,494.4 609.0,494.6 610.5,494.9 611.9,494.7 613.4,496.1 614.8,496.2 616.3,496.2 617.7,496.4 619.1,494.9 620.6,494.7 622.0,494.6 623.4,494.2 624.8,495.2 626.2,494.7 627.6,494.6 629.0,495.2 630.5,494.7 632.0,494.9 633.5,494.4 635.0,493.6 636.6,493.4 638.1,493.4 639.7,494.4 641.3,494.0 642.6,495.4 644.0,496.6 645.5,498.0 647.0,499.0 648.3,499.2 649.6,500.3 651.4,499.5 653.2,500.1 655.0,499.6 656.5,499.8 658.0,499.7 659.5,501.0 661.0,500.8 662.5,500.8 664.0,500.9 665.5,499.9 667.0,500.3 668.5,501.1 670.0,500.4 671.5,501.7 673.0,501.6 674.6,501.7 676.2,501.8 677.8,502.3 679.4,502.4 679.4,528.4 356.0,528.4 356.0,528.4 355.7,526.9 355.4,525.3 355.1,523.8 354.8,522.4 354.5,521.3 354.2,520.1 353.9,518.6 353.6,516.4 353.3,515.0 353.0,513.7 352.7,512.7 352.4,511.0 350.7,509.9 349.0,509.6 347.0,508.7 345.0,508.6 343.3,507.8 341.7,507.8 340.0,507.6 338.0,507.1 336.0,506.8 334.0,507.2 332.0,507.3 330.3,507.6 328.7,507.8 327.0,507.6 325.5,507.7 324.1,508.5 322.6,508.3 321.1,508.3 319.6,508.0 318.0,507.8 316.5,508.1 315.0,507.6 313.3,507.5 311.7,507.3 310.0,507.3 308.3,507.4 306.7,506.4 305.0,506.6 303.3,507.2 301.7,506.8 300.0,507.0 298.0,506.3 296.0,506.2 294.0,506.7 292.0,507.0 290.0,506.7 288.0,506.0 286.0,505.8 284.0,506.6 282.0,506.0 280.5,505.6 279.0,505.6 277.5,504.3 276.0,504.0 273.6,503.0 271.0,503.6 269.5,503.4 268.0,503.6 266.5,504.0 265.0,505.0 263.0,504.8 261.0,504.6 259.0,504.7 257.0,505.3 255.0,505.2 253.0,504.6 251.0,504.8 249.0,505.4 247.2,504.9 245.5,504.8 244.0,504.6 242.5,504.5 241.0,505.0 239.5,505.2 238.0,506.0 236.0,505.8 234.0,506.4 232.5,506.9 231.0,508.0 229.5,508.2 228.0,508.3 226.0,509.0 224.5,509.7 223.0,511.2 221.5,511.9 220.0,513.0 219.0,514.6 218.0,515.3" fill="rgb(153,50,204)" fill-opacity="0.5"/>
<path d="M218.0,475.0 C221.3,475.6 221.3,475.6 228.0,476.7 C234.7,477.8 231.3,477.2 238.0,478.3 C244.7,479.3 241.3,478.8 248.0,479.8 C254.7,480.9 251.3,480.4 258.0,481.4 C264.7,482.4 261.3,481.9 268.0,482.8 C274.7,483.8 271.3,483.3 278.0,484.2 C284.7,485.2 281.3,484.7 288.0,485.6 C294.7,486.5 291.3,486.1 298.0,487.0 C304.7,487.8 301.3,487.4 308.0,488.3 C314.7,489.1 311.3,488.7 318.0,489.5 C324.7,490.3 321.3,489.9 328.0,490.7 C334.7,491.5 331.3,491.1 338.0,491.9 C344.7,492.7 341.3,492.3 348.0,493.0 C354.7,493.8 351.3,493.4 358.0,494.1 C364.7,494.9 361.3,494.5 368.0,495.2 C374.7,495.9 371.3,495.6 378.0,496.2 C384.7,496.9 381.3,496.6 388.0,497.2 C394.7,497.9 391.3,497.6 398.0,498.2 C404.7,498.9 401.3,498.5 408.0,499.2 C414.7,499.8 411.3,499.5 418.0,500.1 C424.7,500.7 421.3,500.4 428.0,501.0 C434.7,501.5 431.3,501.3 438.0,501.8 C444.7,502.4 441.3,502.1 448.0,502.6 C454.7,503.2 451.3,502.9 458.0,503.4 C464.7,504.0 461.3,503.7 468.0,504.2 C474.7,504.7 471.3,504.5 478.0,505.0 C484.7,505.5 481.3,505.2 488.0,505.7 C494.7,506.2 491.3,506.0 498.0,506.4 C504.7,506.9 501.3,506.7 508.0,507.1 C514.7,507.6 511.3,507.3 518.0,507.8 C524.7,508.2 521.3,508.0 528.0,508.4 C534.7,508.8 531.3,508.6 538.0,509.0 C544.7,509.4 541.3,509.2 548.0,509.6 C554.7,510.0 551.3,509.8 558.0,510.2 C564.7,510.6 561.3,510.4 568.0,510.8 C574.7,511.2 571.3,511.0 578.0,511.3 C584.7,511.7 581.3,511.5 588.0,511.9 C594.7,512.2 591.3,512.1 598.0,512.4 C604.7,512.7 601.3,512.6 608.0,512.9 C614.7,513.2 611.3,513.1 618.0,513.4 C624.7,513.7 621.3,513.5 628.0,513.8 C634.7,514.2 631.3,514.0 638.0,514.3 C644.7,514.6 641.3,514.4 648.0,514.7 C654.7,515.0 651.3,514.9 658.0,515.2 C664.7,515.4 661.3,515.3 668.0,515.6 C674.7,515.8 674.7,515.8 678.0,516.0" fill="none" stroke="rgb(148,30,211)" stroke-width="0.9"/>
<path d="M224.0,528.4 C224.8,528.1 223.6,529.2 226.3,527.6 C229.0,526.0 227.9,526.5 232.0,523.6 C236.1,520.7 234.8,521.3 238.5,518.8 C242.2,516.3 240.1,517.4 243.0,516.0 C245.9,514.6 244.5,514.3 247.3,514.6 C250.1,514.9 248.6,514.8 251.5,516.8 C254.4,518.8 253.0,519.2 256.0,520.6 C259.0,522.0 257.6,521.0 260.5,521.0 C263.4,521.0 262.0,520.1 264.8,520.6 C267.6,521.1 266.1,520.9 269.0,522.6 C271.9,524.3 270.9,524.1 273.6,525.8 C276.3,527.5 274.5,526.8 277.0,527.6 C279.5,528.5 266.7,528.1 281.0,528.4 C295.3,528.6 302.7,528.7 320.0,528.4 C337.3,528.0 327.3,528.2 333.0,527.4 C338.7,526.6 334.7,527.0 337.0,526.0 C339.3,525.0 338.1,525.9 340.0,524.4 C341.9,522.9 340.8,523.3 342.6,521.5 C344.4,519.7 343.5,520.4 345.3,519.0 C347.1,517.6 346.3,518.3 348.0,517.4 C349.7,516.5 348.7,516.9 350.5,516.4 C352.3,515.9 351.7,516.2 353.5,515.8 C355.3,515.4 354.6,516.3 355.8,515.2 C357.0,514.1 356.3,515.0 357.2,512.5 C358.1,510.0 357.6,512.1 358.4,507.6 C359.2,503.1 358.8,504.9 359.6,499.0 C360.4,493.1 360.0,494.7 360.7,490.0 C361.4,485.3 361.1,487.6 361.8,485.0 C362.5,482.4 362.1,483.7 362.8,482.2 C363.5,480.7 363.2,481.3 364.0,480.6 C364.8,479.9 364.3,479.9 365.1,480.1 C365.9,480.3 365.5,480.0 366.3,481.3 C367.1,482.6 366.7,481.0 367.5,483.9 C368.3,486.8 367.9,485.6 368.7,490.0 C369.5,494.4 369.1,492.7 369.8,497.0 C370.5,501.3 370.2,499.5 370.9,503.0 C371.6,506.5 371.3,505.2 371.9,507.6 C372.5,510.0 372.2,509.0 372.8,510.3 C373.4,511.6 373.0,511.4 373.6,511.4 C374.2,511.4 373.9,511.6 374.7,510.3 C375.5,509.0 374.9,510.2 375.9,507.6 C376.9,505.0 376.4,506.1 377.6,502.6 C378.8,499.1 378.4,500.9 379.4,497.0 C380.4,493.1 379.8,495.1 380.7,491.0 C381.6,486.9 381.1,489.0 382.0,484.8 C382.9,480.6 382.5,482.6 383.4,478.5 C384.3,474.4 384.0,475.7 384.7,472.5 C385.4,469.3 385.0,471.0 385.6,469.0 C386.2,467.0 385.8,467.9 386.4,466.4 C387.0,464.9 386.7,465.5 387.3,464.6 C387.9,463.7 387.5,463.8 388.2,463.8 C388.9,463.8 388.6,463.7 389.3,464.6 C390.0,465.5 389.6,464.6 390.3,466.4 C391.0,468.2 390.7,467.4 391.5,470.0 C392.3,472.6 391.8,470.6 392.6,474.3 C393.4,478.0 393.0,476.3 393.9,481.0 C394.8,485.7 394.2,483.2 395.2,488.3 C396.2,493.4 395.8,492.6 396.9,496.2 C398.0,499.8 397.4,497.5 398.6,499.2 C399.8,500.9 398.3,498.9 400.4,501.4 C402.5,503.9 401.6,502.9 404.8,506.7 C408.0,510.5 407.4,510.2 410.1,512.8 C412.8,515.4 411.1,513.6 412.8,514.5 C414.5,515.4 413.6,515.1 415.3,515.4 C417.0,515.7 416.2,515.7 418.0,515.5 C419.8,515.3 418.7,515.5 420.6,514.9 C422.5,514.3 421.7,514.7 423.7,513.7 C425.7,512.7 424.9,513.4 426.7,511.9 C428.5,510.4 427.5,511.2 429.0,509.2 C430.5,507.2 429.8,508.5 431.1,505.8 C432.4,503.1 431.7,504.2 432.9,501.0 C434.1,497.8 433.5,499.2 434.6,496.2 C435.7,493.2 435.1,494.6 436.3,492.0 C437.5,489.4 436.8,490.6 438.1,488.3 C439.4,486.0 438.8,487.0 440.3,485.2 C441.8,483.4 441.0,484.2 442.5,483.0 C444.0,481.8 443.2,482.4 444.7,481.5 C446.2,480.6 445.6,481.0 446.9,480.4 C448.2,479.8 447.5,480.1 448.7,479.8 C449.9,479.5 449.4,479.4 450.4,479.5 C451.4,479.6 450.9,479.4 451.8,480.0 C452.7,480.6 452.2,480.0 453.0,481.3 C453.8,482.6 453.4,481.8 454.3,483.8 C455.2,485.8 454.5,484.2 455.6,487.4 C456.7,490.6 456.2,489.1 457.7,493.5 C459.2,497.9 458.4,494.8 460.0,500.5 C461.6,506.2 460.4,506.1 462.4,510.7 C464.4,515.3 463.2,512.6 466.0,514.4 C468.8,516.2 466.0,515.0 470.7,516.0 C475.4,517.0 473.1,516.7 480.0,517.3 C486.9,517.9 483.2,518.0 491.5,517.8 C499.8,517.6 495.3,517.5 505.0,516.6 C514.7,515.7 511.3,515.3 520.6,515.0 C529.9,514.7 524.7,514.9 533.0,515.6 C541.3,516.3 539.9,517.1 545.6,517.0 C551.3,516.9 547.2,517.5 550.0,515.4 C552.8,513.3 551.8,516.2 554.0,510.7 C556.2,505.2 554.8,507.3 556.5,499.0 C558.2,490.7 557.3,492.5 559.0,485.8 C560.7,479.1 559.8,482.2 561.6,479.0 C563.4,475.8 562.5,476.0 564.3,476.2 C566.1,476.4 565.2,475.7 567.0,479.6 C568.8,483.5 568.1,482.3 569.8,487.8 C571.5,493.3 570.4,491.1 572.0,496.0 C573.6,500.9 572.2,499.2 574.7,502.4 C577.2,505.6 576.1,504.2 579.5,505.6 C582.9,507.0 580.8,506.9 585.0,506.6 C589.2,506.3 587.1,506.5 592.0,504.8 C596.9,503.1 595.0,503.7 599.7,501.6 C604.4,499.5 601.9,500.0 606.0,498.6 C610.1,497.2 608.3,496.9 612.0,497.4 C615.7,497.9 613.5,497.2 617.0,500.0 C620.5,502.8 618.9,501.8 622.6,505.7 C626.3,509.6 624.5,507.8 628.0,511.6 C631.5,515.4 628.7,514.2 633.0,517.0 C637.3,519.8 635.5,518.3 641.0,520.0 C646.5,521.7 641.9,520.7 649.6,522.0 C657.3,523.3 654.1,522.9 664.0,524.0 C673.9,525.1 674.3,524.9 679.4,525.3 L679.4,529.3 L224.0,529.3 Z" fill="rgb(128,128,128)"/>
<rect x="218.2" y="527.2" width="139.5" height="3.1" fill="rgb(252,28,32)"/>
<rect x="411.3" y="527.2" width="7.7" height="3.1" fill="rgb(252,28,32)"/>
<rect x="386.4" y="527.2" width="6.3" height="2.9" fill="rgb(65,105,255)"/>
<rect x="447.9" y="527.2" width="0.9" height="2.9" fill="rgb(65,105,255)"/>
</g>
<g id="panel-f">
<polygon points="337.5,567.4 347.0,567.4 349.0,568.2 352.4,570.8 354.6,574.0 356.8,577.8 359.0,581.6 361.0,585.7 363.0,586.3 365.5,587.4 367.6,590.0 370.0,593.0 372.5,596.0 375.0,598.6 378.0,601.6 381.3,605.0 384.0,607.6 387.0,609.6 390.0,612.0 394.0,613.6 398.8,614.6 403.0,616.3 407.6,618.0 412.0,619.6 416.4,621.6 422.0,622.4 428.6,623.3 434.0,624.3 440.0,625.0 445.0,625.3 450.0,626.0 453.0,628.4 456.0,630.2 458.0,631.5 470.0,632.6 483.0,633.2 500.0,634.4 340.0,634.4 339.0,575.0 337.5,567.4" fill="rgb(153,50,204)" fill-opacity="0.5"/>
<path d="M334.9,567.2 C335.3,568.1 335.3,568.0 336.2,569.8 C337.1,571.6 336.6,570.6 337.5,572.5 C338.4,574.4 337.5,572.7 339.0,575.5 C340.5,578.3 340.0,577.5 342.0,581.0 C344.0,584.5 343.0,582.8 345.0,586.0 C347.0,589.2 346.0,587.7 348.0,590.6 C350.0,593.5 348.8,591.9 351.0,594.6 C353.2,597.3 352.0,595.9 354.5,598.6 C357.0,601.3 355.7,599.9 358.5,602.6 C361.3,605.3 359.8,604.1 363.0,606.8 C366.2,609.5 364.5,608.3 368.0,610.8 C371.5,613.3 369.7,612.1 373.5,614.4 C377.3,616.7 375.3,615.6 379.5,617.8 C383.7,620.0 381.5,619.0 386.0,621.0 C390.5,623.0 388.7,622.3 393.0,623.8 C397.3,625.3 393.3,624.3 399.0,625.6 C404.7,626.9 406.3,626.9 410.0,627.6" fill="none" stroke="rgb(148,30,211)" stroke-width="0.9"/>
<path d="M218.2,582.8 C218.8,582.6 218.5,582.7 220.0,582.2 C221.5,581.7 220.6,582.5 222.6,581.4 C224.6,580.3 223.5,580.2 226.0,579.0 C228.5,577.8 227.5,577.8 230.1,577.8 C232.7,577.8 231.3,577.9 233.7,579.0 C236.1,580.1 234.7,580.3 237.2,581.0 C239.7,581.7 238.5,581.3 241.2,581.0 C243.9,580.7 243.0,580.2 245.3,580.1 C247.6,580.0 246.4,580.0 248.0,580.8 C249.6,581.6 248.5,580.9 250.0,582.4 C251.5,583.9 250.8,583.0 252.5,585.3 C254.2,587.6 253.2,586.7 255.0,589.3 C256.8,591.9 255.5,591.7 257.8,593.0 C260.1,594.3 259.1,593.4 262.0,593.2 C264.9,593.0 264.2,594.2 266.6,592.3 C269.0,590.4 267.6,591.1 269.3,587.6 C271.0,584.1 270.1,585.0 271.8,581.8 C273.5,578.6 272.6,579.8 274.3,578.0 C276.0,576.2 275.2,576.2 277.0,576.5 C278.8,576.8 277.9,576.7 279.7,579.0 C281.5,581.3 280.5,580.8 282.3,583.5 C284.1,586.2 283.2,584.9 285.0,587.0 C286.8,589.1 285.1,588.0 287.6,589.8 C290.1,591.6 289.0,590.9 292.5,592.3 C296.0,593.7 294.5,592.7 298.0,594.0 C301.5,595.3 299.5,595.0 303.0,596.2 C306.5,597.4 305.3,597.1 308.6,597.6 C311.9,598.1 310.0,598.0 313.0,597.8 C316.0,597.6 314.3,597.7 317.5,597.0 C320.7,596.3 319.4,597.2 322.6,595.8 C325.8,594.4 324.5,594.8 327.0,592.7 C329.5,590.6 328.2,591.6 330.0,589.5 C331.8,587.4 330.6,589.5 332.3,586.5 C334.0,583.5 333.3,584.6 335.0,580.5 C336.7,576.4 336.1,577.6 337.5,574.3 C338.9,571.0 338.1,572.5 339.3,570.7 C340.5,568.9 339.8,569.4 341.0,569.0 C342.2,568.6 341.6,568.7 342.8,569.6 C344.0,570.5 343.3,569.1 344.5,571.6 C345.7,574.1 345.1,573.2 346.3,577.0 C347.5,580.8 346.9,579.0 348.0,583.0 C349.1,587.0 348.5,585.2 349.7,589.0 C350.9,592.8 350.1,591.3 351.5,594.4 C352.9,597.5 352.2,595.9 354.0,598.2 C355.8,600.5 354.8,598.9 356.8,601.4 C358.8,603.9 357.7,603.0 360.0,605.6 C362.3,608.2 361.1,607.1 363.8,609.3 C366.5,611.5 365.1,610.4 368.0,612.2 C370.9,614.0 369.5,613.1 372.5,614.6 C375.5,616.1 374.1,615.3 377.0,616.8 C379.9,618.3 378.5,617.5 381.3,619.0 C384.1,620.5 382.6,619.8 385.5,621.2 C388.4,622.6 387.0,622.0 390.0,623.3 C393.0,624.6 391.6,624.1 394.5,625.0 C397.4,625.9 396.0,625.9 398.8,626.0 C401.6,626.1 400.1,625.6 403.0,625.2 C405.9,624.8 404.6,624.4 407.6,624.7 C410.6,625.0 409.1,625.0 412.0,626.0 C414.9,627.0 413.1,626.7 416.4,627.7 C419.7,628.7 417.9,628.2 422.0,629.0 C426.1,629.8 422.6,629.6 428.6,630.0 C434.6,630.4 432.9,630.1 440.0,630.3 C447.1,630.5 444.7,630.2 450.0,630.6 C455.3,631.0 452.0,630.9 456.0,631.6 C460.0,632.3 455.7,632.2 462.0,632.8 C468.3,633.4 462.3,633.1 475.0,633.4 C487.7,633.7 431.9,633.6 500.0,633.8 C568.1,634.0 619.6,633.9 679.4,634.0 L679.4,635.0 L218.2,635.0 Z" fill="rgb(128,128,128)"/>
<rect x="218.2" y="632.9" width="120.8" height="3.1" fill="rgb(252,28,32)"/>
</g>
<path d="M218.7,675.2 H224.1 V676.4 H225.2 V682.2 H226.9 V678.2 H228.5 V682.2 H230.8 V681.5 H236.2 V678.2 H239.2 V679.2 H241.6 V682.2 H243.2 V677.5 H246.3 V682.2 H248.6 V683.4 H250.9 V684.5 H253.3 V690.4 H255.6 V689.2 H257.9 V687.6 H260.3 V685.7 H266.6 V690.8 H268.9 V684.5 H271.2 V688.0 H273.6 V690.4 H275.2 V695.0 H280.6 V688.0 H282.9 V686.2 H287.6 V703.2 H289.9 V711.9 H294.6 V708.6 H296.2 V716.1 H298.1 V717.9 H301.6 V713.7 H302.8 V710.2 H306.3 V719.6 H308.6 V720.7 H311.0 V717.2 H313.3 V714.2 H315.6 V716.1 H318.0 V720.3 H320.3 V718.4 H322.6 V717.2 H325.0 V714.9 H327.3 V717.2 H328.5 V722.6 H330.8 V718.4 H333.1 V727.3 H335.9 V717.2 H338.3 V712.6 H340.2 V706.7 H343.0 V703.2 H345.3 V700.7 H347.4 V704.7 H349.2 V708.6 H351.8 V710.4 H354.5 V717.8 H357.1 V711.2 H359.7 V708.6 H362.3 V703.4 H365.0 V700.7 H367.6 V699.4 H372.1 V695.5 H374.7 V699.4 H376.8 V703.4 H379.4 V708.6 H382.0 V702.0 H384.1 V698.1 H386.8 V703.4 H389.4 V698.1 H391.2 V696.3 H393.9 V698.1 H395.7 V706.0 H398.3 V710.7 H401.7 V698.1 H404.4 V696.8 H407.0 V695.5 H408.8 V692.8 H411.5 V690.2 H414.1 V688.4 H417.5 V687.6 H419.3 V690.2 H420.9 V683.1 H423.6 V682.3 H426.7 V683.6 H428.0 V691.5 H430.6 V711.2 H432.5 V723.1 H434.6 V714.7 H437.2 V721.7 H439.8 V719.1 H442.5 V723.1 H444.3 V727.0 H447.7 V725.7 H455.1 V728.8 H457.7 V716.5 H460.3 V727.0 H462.2 V725.2 H464.8 V729.6 H466.9 V736.2 H470.1 V730.9 H471.9 V724.4 H474.0 V737.5 H476.6 V736.2 H478.7 V721.0 H481.4 V724.4 H484.0 V723.1 H486.6 V724.4 H488.4 V722.5 H490.3 V736.7 H492.9 V727.8 H496.9 V721.7 H499.5 V725.2 H502.1 V723.1 H506.1 V716.5 H508.7 V717.3 H510.8 V723.1 H513.4 V720.4 H516.0 V719.1 H518.1 V713.9 H520.2 V712.5 H522.3 V724.4 H525.0 V720.4 H526.8 V713.9 H530.0 V713.3 H533.9 V715.2 H536.5 V717.3 H539.2 V719.1 H541.0 V725.7 H543.1 V716.5 H544.9 V712.5 H548.4 V712.0 H550.2 V720.4 H552.3 V715.2 H554.4 V719.1 H556.2 V723.1 H558.9 V725.7 H561.0 V729.6 H563.6 V724.4 H565.4 V729.6 H567.5 V724.4 H570.2 V721.0 H572.8 V725.7 H574.9 V728.3 H577.5 V730.4 H580.1 V728.3 H582.8 V727.0 H584.6 V723.1 H586.5 V715.7 H589.1 V723.1 H591.2 V717.8 H593.8 V721.0 H595.9 V725.7 H598.3 V720.4 H600.9 V718.3 H603.0 V725.7 H604.8 V721.0 H607.5 V725.7 H609.6 V723.1 H611.4 V727.0 H614.0 V728.8 H616.7 V727.8 H618.8 V721.0 H621.4 V727.8 H623.2 V731.5 H625.9 V719.9 H628.5 V724.4 H630.6 V721.7 H633.2 V719.1 H635.8 V717.8 H638.5 V719.9 H639.8 V730.9 H642.4 V716.5 H645.6 V717.3 H646.9 V729.6 H649.5 V724.4 H652.1 V728.8 H654.2 V725.2 H657.4 V723.6 H660.0 V727.0 H662.1 V725.2 H664.7 V732.3 H667.4 V734.1 H670.0 V735.7 H672.1 V728.8 H674.7 V731.5 H676.3 V738.8 H678.4 V725.7 H679.4" fill="none" stroke="rgb(72,61,139)" stroke-width="1.5" stroke-linejoin="round"/>
<polyline points="218.3,782.8 222.7,780.8 227.5,781.2 235.4,783.0 239.8,780.6 243.3,783.0 251.2,782.5 255.5,783.5 259.4,783.1 262.9,782.9 267.3,783.8 269.0,782.3 270.8,787.3 273.6,785.9 276.9,790.3 280.4,791.5 284.8,793.5 287.8,794.7 290.0,793.5 292.2,793.8 296.2,798.0 300.5,798.0 303.2,797.3 306.7,799.6 312.0,802.2 320.8,804.3 327.8,804.3 333.9,807.2 339.2,803.7 347.0,804.6 357.6,804.3 368.0,805.3 372.4,802.9 382.0,803.6 389.0,802.9 404.0,811.8 411.9,811.6 418.9,813.0 425.0,813.9 432.3,814.8 441.8,817.1 448.5,818.0 456.0,817.7 463.7,819.0 477.9,828.5 486.4,828.1 495.0,832.3 504.5,834.2 513.0,838.5 522.5,839.5 533.9,841.4 543.4,843.7 550.0,843.6 562.4,843.1 578.7,845.5 592.0,843.7 604.3,842.7 606.7,840.4 609.4,844.1 626.7,843.7 649.2,842.3 659.4,843.9 669.3,843.9 671.3,838.4" fill="none" stroke="rgb(139,14,18)" stroke-width="1.9" stroke-linejoin="round"/>
<path d="M218.4,887.2 C223.4,887.0 223.4,886.9 233.3,886.5 C243.2,886.1 238.2,886.3 248.1,886.1 C258.0,885.9 253.1,885.9 263.0,885.9 C272.9,885.9 267.9,885.9 277.8,886.0 C287.7,886.2 282.8,886.0 292.7,886.4 C302.6,886.7 297.6,886.5 307.5,887.0 C317.4,887.5 312.5,887.2 322.4,887.8 C332.3,888.5 327.3,888.1 337.2,889.0 C347.1,889.8 342.2,889.3 352.1,890.3 C362.0,891.3 357.0,890.7 366.9,891.9 C376.8,893.0 371.9,892.4 381.8,893.6 C391.7,894.9 386.8,894.2 396.7,895.6 C406.6,897.0 401.6,896.3 411.5,897.8 C421.4,899.3 416.5,898.5 426.4,900.2 C436.3,901.8 431.3,901.0 441.2,902.7 C451.1,904.4 446.2,903.5 456.1,905.4 C466.0,907.2 461.0,906.3 470.9,908.2 C480.8,910.1 475.9,909.1 485.8,911.1 C495.7,913.1 490.7,912.1 500.6,914.1 C510.5,916.2 505.6,915.1 515.5,917.2 C525.4,919.3 520.5,918.3 530.4,920.4 C540.3,922.5 535.3,921.5 545.2,923.6 C555.1,925.7 550.2,924.7 560.1,926.8 C570.0,929.0 565.0,927.9 574.9,930.0 C584.8,932.1 579.9,931.1 589.8,933.2 C599.7,935.3 594.7,934.2 604.6,936.3 C614.5,938.3 609.6,937.3 619.5,939.3 C629.4,941.3 624.4,940.3 634.3,942.2 C644.2,944.1 639.3,943.2 649.2,945.0 C659.1,946.7 654.1,945.9 664.0,947.5 C673.9,949.2 673.9,949.1 678.9,949.9" fill="none" stroke="rgb(139,0,139)" stroke-width="1.9"/>
<path d="M200.4,44.3 V106.4" stroke="#2a2a2a" stroke-width="0.9" fill="none"/>
<path d="M194.2,44.3 H200.8" stroke="#2a2a2a" stroke-width="0.9" fill="none"/>
<path d="M194.2,59.8 H200.8" stroke="#2a2a2a" stroke-width="0.9" fill="none"/>
<path d="M194.2,75.3 H200.8" stroke="#2a2a2a" stroke-width="0.9" fill="none"/>
<path d="M194.2,90.9 H200.8" stroke="#2a2a2a" stroke-width="0.9" fill="none"/>
<path d="M194.2,106.4 H200.8" stroke="#2a2a2a" stroke-width="0.9" fill="none"/>
<text transform="translate(187.9,44.2) rotate(-90) scale(1,1.05)" text-anchor="middle" font-size="9.7" fill="#000">0.028</text>
<text transform="translate(187.9,75.4) rotate(-90) scale(1,1.05)" text-anchor="middle" font-size="9.7" fill="#000">0.014</text>
<text transform="translate(187.9,106.6) rotate(-90) scale(1,1.05)" text-anchor="middle" font-size="9.7" fill="#000">0.000</text>
<text x="207" y="46.6" font-size="15.3" font-weight="bold" fill="#000">a</text>
<text x="647.8" y="46.6" font-size="11.5" fill="#000"><tspan font-style="italic">n</tspan>=74</text>
<text x="647.8" y="61.8" font-size="11.5" fill="#000"><tspan font-style="italic">p</tspan>&lt;0.01</text>
<path d="M200.4,163.3 V212.2" stroke="#2a2a2a" stroke-width="0.9" fill="none"/>
<path d="M194.2,163.3 H200.8" stroke="#2a2a2a" stroke-width="0.9" fill="none"/>
<path d="M194.2,179.6 H200.8" stroke="#2a2a2a" stroke-width="0.9" fill="none"/>
<path d="M194.2,195.9 H200.8" stroke="#2a2a2a" stroke-width="0.9" fill="none"/>
<path d="M194.2,212.2 H200.8" stroke="#2a2a2a" stroke-width="0.9" fill="none"/>
<text transform="translate(187.9,179.8) rotate(-90) scale(1,1.05)" text-anchor="middle" font-size="9.7" fill="#000">0.046</text>
<text transform="translate(187.9,212.2) rotate(-90) scale(1,1.05)" text-anchor="middle" font-size="9.7" fill="#000">0.000</text>
<text x="207.2" y="155.8" font-size="15.3" font-weight="bold" fill="#000">b</text>
<text x="647.5" y="154.2" font-size="11.5" fill="#000"><tspan font-style="italic">n</tspan>=99</text>
<text x="647.5" y="169.4" font-size="11.5" fill="#000"><tspan font-style="italic">p</tspan>&lt;0.05</text>
<path d="M200.4,267.3 V317.3" stroke="#2a2a2a" stroke-width="0.9" fill="none"/>
<path d="M194.2,267.3 H200.8" stroke="#2a2a2a" stroke-width="0.9" fill="none"/>
<path d="M194.2,284.0 H200.8" stroke="#2a2a2a" stroke-width="0.9" fill="none"/>
<path d="M194.2,300.6 H200.8" stroke="#2a2a2a" stroke-width="0.9" fill="none"/>
<path d="M194.2,317.3 H200.8" stroke="#2a2a2a" stroke-width="0.9" fill="none"/>
<text transform="translate(187.9,284.2) rotate(-90) scale(1,1.05)" text-anchor="middle" font-size="9.7" fill="#000">0.018</text>
<text transform="translate(187.9,317.3) rotate(-90) scale(1,1.05)" text-anchor="middle" font-size="9.7" fill="#000">0.000</text>
<text x="207.2" y="261.6" font-size="15.3" font-weight="bold" fill="#000">c</text>
<text x="646" y="260" font-size="11.5" fill="#000"><tspan font-style="italic">n</tspan>=40</text>
<text x="646" y="275.2" font-size="11.5" fill="#000"><tspan font-style="italic">p</tspan>&lt;0.01</text>
<path d="M200.4,372.8 V423.0" stroke="#2a2a2a" stroke-width="0.9" fill="none"/>
<path d="M194.2,372.8 H200.8" stroke="#2a2a2a" stroke-width="0.9" fill="none"/>
<path d="M194.2,389.5 H200.8" stroke="#2a2a2a" stroke-width="0.9" fill="none"/>
<path d="M194.2,406.3 H200.8" stroke="#2a2a2a" stroke-width="0.9" fill="none"/>
<path d="M194.2,423.0 H200.8" stroke="#2a2a2a" stroke-width="0.9" fill="none"/>
<text transform="translate(187.9,389.6) rotate(-90) scale(1,1.05)" text-anchor="middle" font-size="9.7" fill="#000">0.014</text>
<text transform="translate(187.9,423.0) rotate(-90) scale(1,1.05)" text-anchor="middle" font-size="9.7" fill="#000">0.000</text>
<text x="207" y="366.6" font-size="15.3" font-weight="bold" fill="#000">d</text>
<text x="646.6" y="365.4" font-size="11.5" fill="#000"><tspan font-style="italic">n</tspan>=25</text>
<text x="646.6" y="380.6" font-size="11.5" fill="#000"><tspan font-style="italic">p</tspan>&lt;0.05</text>
<path d="M200.4,467.3 V528.3" stroke="#2a2a2a" stroke-width="0.9" fill="none"/>
<path d="M194.2,467.3 H200.8" stroke="#2a2a2a" stroke-width="0.9" fill="none"/>
<path d="M194.2,482.6 H200.8" stroke="#2a2a2a" stroke-width="0.9" fill="none"/>
<path d="M194.2,497.8 H200.8" stroke="#2a2a2a" stroke-width="0.9" fill="none"/>
<path d="M194.2,513.0 H200.8" stroke="#2a2a2a" stroke-width="0.9" fill="none"/>
<path d="M194.2,528.3 H200.8" stroke="#2a2a2a" stroke-width="0.9" fill="none"/>
<text transform="translate(187.9,467.5) rotate(-90) scale(1,1.05)" text-anchor="middle" font-size="9.7" fill="#000">0.008</text>
<text transform="translate(187.9,497.9) rotate(-90) scale(1,1.05)" text-anchor="middle" font-size="9.7" fill="#000">0.004</text>
<text transform="translate(187.9,528.4) rotate(-90) scale(1,1.05)" text-anchor="middle" font-size="9.7" fill="#000">0.000</text>
<text x="207" y="472.2" font-size="15.3" font-weight="bold" fill="#000">e</text>
<text x="645.5" y="470.2" font-size="11.5" fill="#000"><tspan font-style="italic">n</tspan>=21</text>
<text x="645.5" y="485.4" font-size="11.5" fill="#000"><tspan font-style="italic">p</tspan>&lt;0.01</text>
<path d="M200.4,571.6 V634.2" stroke="#2a2a2a" stroke-width="0.9" fill="none"/>
<path d="M194.2,571.6 H200.8" stroke="#2a2a2a" stroke-width="0.9" fill="none"/>
<path d="M194.2,587.2 H200.8" stroke="#2a2a2a" stroke-width="0.9" fill="none"/>
<path d="M194.2,602.9 H200.8" stroke="#2a2a2a" stroke-width="0.9" fill="none"/>
<path d="M194.2,618.6 H200.8" stroke="#2a2a2a" stroke-width="0.9" fill="none"/>
<path d="M194.2,634.2 H200.8" stroke="#2a2a2a" stroke-width="0.9" fill="none"/>
<text transform="translate(187.9,572.0) rotate(-90) scale(1,1.05)" text-anchor="middle" font-size="9.7" fill="#000">0.36</text>
<text transform="translate(187.9,602.9) rotate(-90) scale(1,1.05)" text-anchor="middle" font-size="9.7" fill="#000">0.18</text>
<text transform="translate(187.9,634.2) rotate(-90) scale(1,1.05)" text-anchor="middle" font-size="9.7" fill="#000">0.00</text>
<text x="207.4" y="577.2" font-size="15.3" font-weight="bold" fill="#000">f</text>
<text x="645.3" y="575.6" font-size="11.5" fill="#000"><tspan font-style="italic">n</tspan>=938</text>
<text x="645.3" y="590.8" font-size="11.5" fill="#000"><tspan font-style="italic">p</tspan>&lt;0.01</text>
<path d="M200.4,679.7 V739.5" stroke="#2a2a2a" stroke-width="0.9" fill="none"/>
<path d="M194.2,679.7 H200.8" stroke="#2a2a2a" stroke-width="0.9" fill="none"/>
<path d="M194.2,687.2 H200.8" stroke="#2a2a2a" stroke-width="0.9" fill="none"/>
<path d="M194.2,694.7 H200.8" stroke="#2a2a2a" stroke-width="0.9" fill="none"/>
<path d="M194.2,702.1 H200.8" stroke="#2a2a2a" stroke-width="0.9" fill="none"/>
<path d="M194.2,709.6 H200.8" stroke="#2a2a2a" stroke-width="0.9" fill="none"/>
<path d="M194.2,717.1 H200.8" stroke="#2a2a2a" stroke-width="0.9" fill="none"/>
<path d="M194.2,724.5 H200.8" stroke="#2a2a2a" stroke-width="0.9" fill="none"/>
<path d="M194.2,732.0 H200.8" stroke="#2a2a2a" stroke-width="0.9" fill="none"/>
<path d="M194.2,739.5 H200.8" stroke="#2a2a2a" stroke-width="0.9" fill="none"/>
<text transform="translate(187.9,702.4) rotate(-90) scale(1,1.05)" text-anchor="middle" font-size="9.7" fill="#000">−38.87</text>
<text transform="translate(187.9,739.8) rotate(-90) scale(1,1.05)" text-anchor="middle" font-size="9.7" fill="#000">−43.87</text>
<text x="207.6" y="692.2" font-size="15.3" font-weight="bold">g</text>
<text transform="translate(160.3,710) rotate(-90)" text-anchor="middle" font-size="11.5" fill="#000">Temperature</text>
<path d="M200.4,780.3 V845.0" stroke="#2a2a2a" stroke-width="0.9" fill="none"/>
<path d="M194.2,780.3 H200.8" stroke="#2a2a2a" stroke-width="0.9" fill="none"/>
<path d="M194.2,796.5 H200.8" stroke="#2a2a2a" stroke-width="0.9" fill="none"/>
<path d="M194.2,812.6 H200.8" stroke="#2a2a2a" stroke-width="0.9" fill="none"/>
<path d="M194.2,828.8 H200.8" stroke="#2a2a2a" stroke-width="0.9" fill="none"/>
<path d="M194.2,845.0 H200.8" stroke="#2a2a2a" stroke-width="0.9" fill="none"/>
<text transform="translate(187.9,780.3) rotate(-90) scale(1,1.05)" text-anchor="middle" font-size="9.7" fill="#000">267</text>
<text transform="translate(187.9,812.7) rotate(-90) scale(1,1.05)" text-anchor="middle" font-size="9.7" fill="#000">227</text>
<text transform="translate(187.9,845.0) rotate(-90) scale(1,1.05)" text-anchor="middle" font-size="9.7" fill="#000">187</text>
<text x="207.6" y="797.2" font-size="15.3" font-weight="bold">h</text>
<text transform="translate(157.3,813) rotate(-90)" text-anchor="middle" font-size="11.5" fill="#000">CO<tspan font-size="8" dy="2.5">2</tspan><tspan dy="-2.5"> (ppmv)</tspan></text>
<path d="M200.4,904.2 V950.0" stroke="#2a2a2a" stroke-width="0.9" fill="none"/>
<path d="M194.2,904.2 H200.8" stroke="#2a2a2a" stroke-width="0.9" fill="none"/>
<path d="M194.2,927.1 H200.8" stroke="#2a2a2a" stroke-width="0.9" fill="none"/>
<path d="M194.2,950.0 H200.8" stroke="#2a2a2a" stroke-width="0.9" fill="none"/>
<text transform="translate(187.9,904.2) rotate(-90) scale(1,1.05)" text-anchor="middle" font-size="9.7" fill="#000">488.18</text>
<text transform="translate(187.9,950.0) rotate(-90) scale(1,1.05)" text-anchor="middle" font-size="9.7" fill="#000">448.18</text>
<text x="207.2" y="903" font-size="15.3" font-weight="bold">i</text>
<text transform="translate(128.6,927.5) rotate(-90)" text-anchor="middle" font-size="11.5" fill="#000">Seasonal</text>
<text transform="translate(142.8,928) rotate(-90)" text-anchor="middle" font-size="11.5" fill="#000">difference in</text>
<text transform="translate(156.8,927.5) rotate(-90)" text-anchor="middle" font-size="11.5" fill="#000">insolation (W/m<tspan font-size="8" dy="-4">2</tspan><tspan dy="4">)</tspan></text>
<path d="M218.8,958.2 H679.2" stroke="#2a2a2a" stroke-width="0.9" fill="none"/>
<path d="M218.8,958.2 V964" stroke="#2a2a2a" stroke-width="0.9" fill="none"/>
<text x="218.8" y="977.6" text-anchor="middle" font-size="11.5" fill="#000">10</text>
<path d="M264.8,958.2 V964" stroke="#2a2a2a" stroke-width="0.9" fill="none"/>
<text x="264.8" y="977.6" text-anchor="middle" font-size="11.5" fill="#000">11</text>
<path d="M310.9,958.2 V964" stroke="#2a2a2a" stroke-width="0.9" fill="none"/>
<text x="310.9" y="977.6" text-anchor="middle" font-size="11.5" fill="#000">12</text>
<path d="M356.9,958.2 V964" stroke="#2a2a2a" stroke-width="0.9" fill="none"/>
<text x="356.9" y="977.6" text-anchor="middle" font-size="11.5" fill="#000">13</text>
<path d="M403.0,958.2 V964" stroke="#2a2a2a" stroke-width="0.9" fill="none"/>
<text x="403.0" y="977.6" text-anchor="middle" font-size="11.5" fill="#000">14</text>
<path d="M449.0,958.2 V964" stroke="#2a2a2a" stroke-width="0.9" fill="none"/>
<text x="449.0" y="977.6" text-anchor="middle" font-size="11.5" fill="#000">15</text>
<path d="M495.0,958.2 V964" stroke="#2a2a2a" stroke-width="0.9" fill="none"/>
<text x="495.0" y="977.6" text-anchor="middle" font-size="11.5" fill="#000">16</text>
<path d="M541.1,958.2 V964" stroke="#2a2a2a" stroke-width="0.9" fill="none"/>
<text x="541.1" y="977.6" text-anchor="middle" font-size="11.5" fill="#000">17</text>
<path d="M587.1,958.2 V964" stroke="#2a2a2a" stroke-width="0.9" fill="none"/>
<text x="587.1" y="977.6" text-anchor="middle" font-size="11.5" fill="#000">18</text>
<path d="M633.2,958.2 V964" stroke="#2a2a2a" stroke-width="0.9" fill="none"/>
<text x="633.2" y="977.6" text-anchor="middle" font-size="11.5" fill="#000">19</text>
<path d="M679.2,958.2 V964" stroke="#2a2a2a" stroke-width="0.9" fill="none"/>
<text x="679.2" y="977.6" text-anchor="middle" font-size="11.5" fill="#000">20</text>
<text x="427.2" y="994.6" font-size="11.5" fill="#000">Age (ka)</text>
<text transform="translate(317.2,33.4) rotate(-44)" font-size="11.5" fill="#000" dx="0 -0.9 -0.3 -0.3 -0.3 -0.3 -0.3">Younger</text>
<text transform="translate(331.8,36.2) rotate(-44)" font-size="11.5" fill="#000">Dryas</text>
<text transform="translate(363.3,36.4) rotate(-44)" font-size="11.5" fill="#000">Clovis</text>
<path d="M16.6,27.3 V642.5" stroke="#2a2a2a" stroke-width="1.05" fill="none"/>
<text transform="translate(8.6,291.2) rotate(-90)" text-anchor="middle" font-size="11.5" fill="#000">Radiocarbon date summed probability distributions (SPDs)</text>
<g transform="translate(20,30) scale(0.23359)" fill="#000">
<path d="M62.0,298.0 C62.5,290.5 62.4,284.1 64.0,270.0 C65.6,255.9 65.1,258.3 68.0,245.0 C70.9,231.7 70.5,232.5 75.0,220.0 C79.5,207.5 80.5,210.0 85.0,198.0 C89.5,186.0 87.5,186.2 92.0,175.0 C96.5,163.8 95.1,165.3 102.0,156.0 C108.9,146.7 107.9,148.3 118.0,140.0 C128.1,131.7 127.5,132.5 140.0,125.0 C152.5,117.5 153.0,119.2 165.0,112.0 C177.0,104.8 174.3,107.1 185.0,98.0 C195.7,88.9 193.0,86.5 205.0,78.0 C217.0,69.5 215.3,68.9 230.0,66.0 C244.7,63.1 245.3,68.1 260.0,67.0 C274.7,65.9 273.0,67.1 285.0,62.0 C297.0,56.9 294.3,54.9 305.0,48.0 C315.7,41.1 314.3,40.0 325.0,36.0 C335.7,32.0 335.1,31.4 345.0,33.0 C354.9,34.6 353.2,33.5 362.0,42.0 C370.8,50.5 370.5,52.2 378.0,65.0 C385.5,77.8 382.8,75.9 390.0,90.0 C397.2,104.1 397.0,104.7 405.0,118.0 C413.0,131.3 413.3,128.3 420.0,140.0 C426.7,151.7 425.5,152.1 430.0,162.0 C434.5,171.9 429.0,172.5 437.0,177.0 C445.0,181.5 448.0,179.0 460.0,179.0 C472.0,179.0 468.7,181.3 482.0,177.0 C495.3,172.7 495.1,171.2 510.0,163.0 C524.9,154.8 521.5,153.2 538.0,146.4 C554.5,139.6 555.5,139.9 572.0,137.5 C588.5,135.1 591.6,136.3 600.0,137.5 C608.4,138.7 605.0,139.8 603.5,142.0 C602.0,144.2 602.8,144.5 594.4,145.8 C586.0,147.1 585.5,144.0 572.0,147.0 C558.5,150.0 558.8,149.5 543.8,157.0 C528.8,164.5 532.1,166.5 515.6,175.0 C499.1,183.5 499.0,184.3 482.0,189.0 C465.0,193.7 452.0,188.1 452.0,192.5 C452.0,196.9 466.5,200.4 482.0,205.4 C497.5,210.4 495.1,210.0 510.0,211.1 C524.9,212.2 523.0,212.4 538.0,209.4 C553.0,206.4 552.8,207.6 566.3,199.8 C579.8,192.0 579.8,192.1 588.8,180.1 C597.8,168.1 595.5,163.2 600.0,154.8 C604.5,146.4 602.3,148.5 605.7,148.5 C609.1,148.5 611.9,146.4 612.8,154.8 C613.7,163.2 613.9,168.1 609.0,180.1 C604.1,192.1 604.3,190.6 594.4,199.8 C584.5,209.0 587.0,207.9 572.0,214.5 C557.0,221.1 554.5,221.5 538.0,224.5 C521.5,227.5 524.9,227.0 510.0,225.8 C495.1,224.6 496.4,224.2 482.0,220.0 C467.6,215.8 463.3,207.3 456.0,210.0 C448.7,212.7 455.0,218.5 454.5,230.0 C454.0,241.5 457.1,239.6 454.0,253.3 C450.9,267.0 450.6,271.9 443.0,281.4 C435.4,290.9 437.6,287.6 425.6,289.0 C413.6,290.4 406.4,290.8 398.0,286.5 C389.6,282.2 389.6,277.1 394.0,273.0 C398.4,268.9 406.7,275.1 414.4,271.3 C422.1,267.5 420.1,268.2 422.8,258.9 C425.5,249.6 426.0,249.9 424.5,236.4 C423.0,222.9 422.1,220.9 417.2,208.3 C412.3,195.7 410.5,193.3 406.0,189.0 C401.5,184.7 402.9,193.6 400.5,192.0 C398.1,190.4 400.9,186.9 397.0,183.0 C393.1,179.1 394.9,179.5 386.0,177.5 C377.1,175.5 374.1,174.8 363.7,175.6 C353.3,176.4 353.7,174.8 347.0,180.5 C340.3,186.2 340.7,188.1 338.4,197.0 C336.1,205.9 335.4,203.3 338.4,213.8 C341.4,224.3 343.0,223.6 349.7,236.4 C356.4,249.2 354.0,248.2 363.7,261.7 C373.4,275.2 378.7,275.7 386.2,287.0 C393.7,298.3 390.5,292.0 392.0,304.0 C393.5,316.0 392.3,317.1 392.0,332.0 C391.7,346.9 395.0,350.1 390.7,360.0 C386.4,369.9 385.3,366.3 376.0,369.0 C366.7,371.7 364.3,368.4 356.0,370.0 C347.7,371.6 359.9,373.4 345.0,375.0 C330.1,376.6 316.3,377.9 300.0,376.0 C283.7,374.1 287.2,376.3 284.0,368.0 C280.8,359.7 284.8,357.8 288.0,345.0 C291.2,332.2 294.9,334.7 296.0,320.0 C297.1,305.3 294.9,304.7 292.0,290.0 C289.1,275.3 289.5,276.7 285.0,265.0 C280.5,253.3 287.0,250.0 275.0,246.0 C263.0,242.0 260.0,246.8 240.0,250.0 C220.0,253.2 218.7,254.8 200.0,258.0 C181.3,261.2 181.2,256.1 170.0,262.0 C158.8,267.9 162.8,268.5 158.0,280.0 C153.2,291.5 152.0,290.3 152.0,305.0 C152.0,319.7 152.7,320.9 158.0,335.0 C163.3,349.1 171.5,348.1 172.0,358.0 C172.5,367.9 173.9,367.2 160.0,372.0 C146.1,376.8 138.1,376.0 120.0,376.0 C101.9,376.0 98.7,380.3 92.0,372.0 C85.3,363.7 93.4,361.5 95.0,345.0 C96.6,328.5 98.8,328.7 98.0,310.0 C97.2,291.3 94.7,293.7 92.0,275.0 C89.3,256.3 89.3,255.2 88.0,240.0 C86.7,224.8 89.1,218.5 87.0,218.0 C84.9,217.5 83.5,225.5 80.0,238.0 C76.5,250.5 76.7,249.0 74.0,265.0 C71.3,281.0 71.1,289.2 70.0,298.0 Z"/>
<path d="M327.0,272.0 C330.5,277.3 333.9,281.9 340.0,292.0 C346.1,302.1 346.8,302.0 350.0,310.0 C353.2,318.0 353.3,315.9 352.0,322.0 C350.7,328.1 349.3,327.7 345.0,333.0 C340.7,338.3 339.7,344.9 336.0,342.0 C332.3,339.1 332.9,334.3 331.0,322.0 C329.1,309.7 329.5,302.9 329.0,296.0 Z" fill="#fff"/>
</g>
<g transform="translate(20,135) scale(0.23359)" fill="#000">
<path d="M56.0,262.0 C56.3,256.1 56.5,251.7 57.0,240.0 C57.5,228.3 56.1,230.8 58.0,218.0 C59.9,205.2 60.3,206.1 64.0,192.0 C67.7,177.9 65.1,180.2 72.0,165.0 C78.9,149.8 77.2,149.7 90.0,135.0 C102.8,120.3 101.3,121.5 120.0,110.0 C138.7,98.5 138.7,98.7 160.0,92.0 C181.3,85.3 178.7,86.1 200.0,85.0 C221.3,83.9 221.3,86.1 240.0,88.0 C258.7,89.9 255.3,92.8 270.0,92.0 C284.7,91.2 280.3,87.7 295.0,85.0 C309.7,82.3 307.7,81.2 325.0,82.0 C342.3,82.8 340.0,87.2 360.0,88.0 C380.0,88.8 384.0,83.9 400.0,85.0 C416.0,86.1 406.7,84.0 420.0,92.0 C433.3,100.0 434.0,102.2 450.0,115.0 C466.0,127.8 466.7,125.3 480.0,140.0 C493.3,154.7 492.0,155.3 500.0,170.0 C508.0,184.7 504.7,184.9 510.0,195.0 C515.3,205.1 509.3,201.9 520.0,208.0 C530.7,214.1 532.7,214.3 550.0,218.0 C567.3,221.7 569.5,223.3 585.0,222.0 C600.5,220.7 598.7,216.2 608.0,213.0 C617.3,209.8 618.9,207.6 620.0,210.0 C621.1,212.4 621.3,216.4 612.0,222.0 C602.7,227.6 601.5,228.6 585.0,231.0 C568.5,233.4 566.0,232.9 550.0,231.0 C534.0,229.1 522.3,221.6 525.0,224.0 C527.7,226.4 540.0,235.7 560.0,240.0 C580.0,244.3 582.4,243.7 600.0,240.0 C617.6,236.3 616.4,233.2 626.0,226.0 C635.6,218.8 632.0,215.1 636.0,213.0 C640.0,210.9 642.3,211.1 641.0,218.0 C639.7,224.9 641.9,229.4 631.0,239.0 C620.1,248.6 618.9,249.6 600.0,254.0 C581.1,258.4 579.2,257.9 560.0,255.5 C540.8,253.1 539.7,249.7 528.0,245.0 C516.3,240.3 519.1,238.0 516.0,238.0 C512.9,238.0 516.5,237.5 516.5,245.0 C516.5,252.5 518.9,251.9 516.0,266.0 C513.1,280.1 514.2,284.3 505.5,298.0 C496.8,311.7 495.9,311.8 483.5,317.5 C471.1,323.2 471.4,322.8 459.0,319.2 C446.6,315.6 442.5,310.1 437.0,304.0 C431.5,297.9 434.5,297.0 438.5,296.5 C442.5,296.0 445.1,298.9 452.0,302.0 C458.9,305.1 456.4,309.1 464.3,308.0 C472.2,306.9 474.8,307.1 481.5,298.0 C488.2,288.9 487.2,289.6 489.5,274.0 C491.8,258.4 491.3,253.6 490.0,239.5 C488.7,225.4 492.8,230.1 484.5,221.0 C476.2,211.9 472.9,210.8 459.0,205.5 C445.1,200.2 446.7,203.5 432.5,201.2 C418.3,198.9 420.1,199.7 405.9,197.0 C391.7,194.3 391.4,188.9 379.4,191.0 C367.4,193.1 368.7,194.9 361.0,205.0 C353.3,215.1 352.6,216.8 350.5,228.8 C348.4,240.8 348.1,237.3 353.0,250.0 C357.9,262.7 362.2,263.3 368.7,276.6 C375.2,289.9 374.2,285.8 377.5,300.0 C380.8,314.2 380.6,316.7 381.0,330.0 C381.4,343.3 379.0,340.7 379.0,350.0 C379.0,359.3 385.5,358.9 381.0,365.0 C376.5,371.1 371.3,372.2 362.0,373.0 C352.7,373.8 351.9,367.2 346.0,368.0 C340.1,368.8 349.1,373.9 340.0,376.0 C330.9,378.1 322.7,378.7 312.0,376.0 C301.3,373.3 301.9,378.3 300.0,366.0 C298.1,353.7 302.9,350.3 305.0,330.0 C307.1,309.7 306.7,310.8 308.0,290.0 C309.3,269.2 312.1,263.2 310.0,252.0 C307.9,240.8 313.3,248.0 300.0,248.0 C286.7,248.0 281.3,251.5 260.0,252.0 C238.7,252.5 240.0,251.1 220.0,250.0 C200.0,248.9 198.3,246.7 185.0,248.0 C171.7,249.3 175.3,249.1 170.0,255.0 C164.7,260.9 165.0,258.0 165.0,270.0 C165.0,282.0 166.0,282.7 170.0,300.0 C174.0,317.3 175.5,320.3 180.0,335.0 C184.5,349.7 189.1,347.8 187.0,355.0 C184.9,362.2 185.9,360.4 172.0,362.0 C158.1,363.6 145.9,364.2 135.0,361.0 C124.1,357.8 132.1,347.1 131.0,350.0 C129.9,352.9 139.3,364.5 131.0,372.0 C122.7,379.5 115.7,377.2 100.0,378.0 C84.3,378.8 80.5,383.8 72.0,375.0 C63.5,366.2 67.2,365.0 68.0,345.0 C68.8,325.0 73.9,322.7 75.0,300.0 C76.1,277.3 74.4,279.2 72.0,260.0 C69.6,240.8 68.7,232.0 66.0,228.0 C63.3,224.0 63.1,235.9 62.0,245.0 C60.9,254.1 62.0,257.5 62.0,262.0 Z"/>
<path d="M130.0,270.0 C131.6,274.0 134.4,271.7 136.0,285.0 C137.6,298.3 136.5,302.1 136.0,320.0 C135.5,337.9 136.1,345.3 134.0,352.0 C131.9,358.7 130.7,356.2 128.0,345.0 C125.3,333.8 124.8,326.0 124.0,310.0 C123.2,294.0 124.7,291.7 125.0,285.0 Z" fill="#fff"/>
<path d="M345.0,298.0 C346.3,303.3 348.9,307.9 350.0,318.0 C351.1,328.1 350.9,331.2 349.0,336.0 C347.1,340.8 344.3,341.3 343.0,336.0 C341.7,330.7 343.7,321.3 344.0,316.0 Z" fill="#fff"/>
</g>
<g transform="translate(20,240) scale(0.23359)" fill="#000">
<path d="M80.0,298.0 C81.3,291.9 78.3,289.1 85.0,275.0 C91.7,260.9 90.3,261.0 105.0,245.0 C119.7,229.0 120.0,231.0 140.0,215.0 C160.0,199.0 161.3,201.0 180.0,185.0 C198.7,169.0 194.0,168.3 210.0,155.0 C226.0,141.7 221.3,144.3 240.0,135.0 C258.7,125.7 256.0,125.3 280.0,120.0 C304.0,114.7 303.3,117.1 330.0,115.0 C356.7,112.9 356.0,112.8 380.0,112.0 C404.0,111.2 398.7,109.9 420.0,112.0 C441.3,114.1 438.7,113.9 460.0,120.0 C481.3,126.1 478.7,124.3 500.0,135.0 C521.3,145.7 521.3,146.7 540.0,160.0 C558.7,173.3 556.7,171.7 570.0,185.0 C583.3,198.3 582.0,196.7 590.0,210.0 C598.0,223.3 598.1,223.0 600.0,235.0 C601.9,247.0 601.0,247.8 597.0,255.0 C593.0,262.2 592.2,261.2 585.0,262.0 C577.8,262.8 579.9,261.7 570.0,258.0 C560.1,254.3 558.7,254.1 548.0,248.0 C537.3,241.9 540.1,241.1 530.0,235.0 C519.9,228.9 519.3,225.0 510.0,225.0 C500.7,225.0 503.0,227.0 495.0,235.0 C487.0,243.0 485.3,243.0 480.0,255.0 C474.7,267.0 473.7,266.7 475.0,280.0 C476.3,293.3 478.3,293.0 485.0,305.0 C491.7,317.0 494.7,314.3 500.0,325.0 C505.3,335.7 507.7,336.7 505.0,345.0 C502.3,353.3 500.7,353.9 490.0,356.0 C479.3,358.1 474.3,356.7 465.0,353.0 C455.7,349.3 453.7,345.5 455.0,342.0 C456.3,338.5 463.3,343.2 470.0,340.0 C476.7,336.8 481.3,336.7 480.0,330.0 C478.7,323.3 475.7,324.3 465.0,315.0 C454.3,305.7 449.3,305.7 440.0,295.0 C430.7,284.3 433.2,284.9 430.0,275.0 C426.8,265.1 429.3,259.9 428.0,258.0 C426.7,256.1 428.5,259.5 425.0,268.0 C421.5,276.5 420.3,277.5 415.0,290.0 C409.7,302.5 407.7,301.7 405.0,315.0 C402.3,328.3 407.7,329.3 405.0,340.0 C402.3,350.7 403.0,349.9 395.0,355.0 C387.0,360.1 383.8,361.4 375.0,359.0 C366.2,356.6 366.0,355.1 362.0,346.0 C358.0,336.9 358.4,327.7 360.0,325.0 C361.6,322.3 362.7,332.0 368.0,336.0 C373.3,340.0 374.7,344.3 380.0,340.0 C385.3,335.7 386.7,333.3 388.0,320.0 C389.3,306.7 385.8,305.5 385.0,290.0 C384.2,274.5 386.3,272.7 385.0,262.0 C383.7,251.3 392.0,253.2 380.0,250.0 C368.0,246.8 358.7,248.7 340.0,250.0 C321.3,251.3 321.2,251.0 310.0,255.0 C298.8,259.0 302.0,255.7 298.0,265.0 C294.0,274.3 294.5,275.3 295.0,290.0 C295.5,304.7 293.3,306.7 300.0,320.0 C306.7,333.3 315.2,331.5 320.0,340.0 C324.8,348.5 324.7,347.5 318.0,352.0 C311.3,356.5 309.9,356.7 295.0,357.0 C280.1,357.3 276.7,355.4 262.0,353.0 C247.3,350.6 252.5,352.8 240.0,348.0 C227.5,343.2 225.7,343.0 215.0,335.0 C204.3,327.0 202.7,328.7 200.0,318.0 C197.3,307.3 201.0,306.5 205.0,295.0 C209.0,283.5 209.7,284.9 215.0,275.0 C220.3,265.1 229.0,263.3 225.0,258.0 C221.0,252.7 216.0,253.9 200.0,255.0 C184.0,256.1 183.7,255.9 165.0,262.0 C146.3,268.1 147.3,270.0 130.0,278.0 C112.7,286.0 112.0,285.9 100.0,292.0 C88.0,298.1 89.0,298.6 85.0,301.0 Z"/>
<path d="M246.0,298.0 C247.1,302.5 249.5,304.9 250.0,315.0 C250.5,325.1 249.9,330.9 248.0,336.0 C246.1,341.1 244.1,339.6 243.0,334.0 C241.9,328.4 243.7,320.1 244.0,315.0 Z" fill="#fff"/>
</g>
<g transform="translate(20,340) scale(0.23359)" fill="#000">
<path d="M73.4,324.0 C75.2,315.3 77.1,308.1 80.0,291.2 C82.9,274.3 85.0,276.9 84.4,260.6 C83.8,244.3 79.0,249.9 77.8,230.0 C76.6,210.1 77.3,203.1 80.0,186.0 C82.7,168.9 82.7,175.1 88.0,166.0 C93.3,156.9 91.5,160.3 100.0,152.0 C108.5,143.7 106.7,143.5 120.0,135.0 C133.3,126.5 131.3,125.3 150.0,120.0 C168.7,114.7 168.7,114.5 190.0,115.0 C211.3,115.5 206.0,118.5 230.0,122.0 C254.0,125.5 253.3,127.2 280.0,128.0 C306.7,128.8 308.7,126.6 330.0,125.0 C351.3,123.4 345.3,123.4 360.0,122.0 C374.7,120.6 373.3,121.4 385.3,119.7 C397.3,118.0 395.0,118.0 405.0,115.5 C415.0,113.0 410.1,114.7 422.8,110.3 C435.5,105.9 437.8,103.2 452.8,99.0 C467.8,94.8 465.6,96.0 479.0,94.5 C492.4,93.0 495.3,94.3 503.0,93.4 C510.7,92.5 506.4,94.6 508.0,91.0 C509.6,87.4 508.2,85.5 509.0,80.0 C509.8,74.5 508.0,70.9 511.0,70.5 C514.0,70.1 513.8,73.8 520.3,78.4 C526.8,83.0 526.3,81.8 535.3,87.8 C544.3,93.8 544.0,92.0 554.0,101.0 C564.0,110.0 562.8,109.5 572.8,121.5 C582.8,133.5 581.5,133.0 591.5,146.0 C601.5,159.0 603.5,158.8 610.3,170.3 C617.1,181.8 615.8,179.5 617.0,189.0 C618.2,198.5 618.6,198.8 614.8,206.0 C611.0,213.2 610.0,213.0 602.8,216.0 C595.6,219.0 594.8,218.9 587.8,217.2 C580.8,215.5 581.5,213.4 576.5,209.7 C571.5,206.0 577.0,207.3 569.0,203.3 C561.0,199.3 557.0,199.5 546.5,194.7 C536.0,189.9 537.7,190.4 529.7,185.3 C521.7,180.2 524.0,176.3 516.5,175.5 C509.0,174.7 509.5,177.7 501.5,182.3 C493.5,186.9 497.5,184.5 486.5,192.8 C475.5,201.1 471.8,203.4 460.3,213.4 C448.8,223.4 448.9,221.2 443.4,230.3 C437.9,239.4 435.7,241.7 439.8,247.5 C443.9,253.3 450.3,249.5 458.6,252.0 C466.9,254.5 466.1,253.4 471.1,256.7 C476.1,260.0 475.4,259.1 477.3,264.5 C479.2,269.9 480.0,270.3 478.3,277.0 C476.6,283.7 476.4,282.0 471.1,289.5 C465.8,297.0 465.3,297.2 458.6,305.1 C451.9,313.0 454.4,315.0 446.1,319.2 C437.8,323.4 432.7,317.8 427.3,320.7 C421.9,323.6 425.8,320.9 425.8,330.1 C425.8,339.3 426.0,342.6 427.3,355.1 C428.6,367.6 427.2,367.8 430.5,377.0 C433.8,386.2 433.1,383.7 439.8,389.5 C446.5,395.3 447.3,393.5 455.5,398.9 C463.7,404.3 467.2,405.2 470.5,409.8 C473.8,414.4 481.2,414.1 468.0,416.0 C454.8,417.9 434.4,419.1 421.1,417.0 C407.8,414.9 420.1,416.4 418.0,408.2 C415.9,400.0 415.4,398.9 413.3,386.4 C411.2,373.9 411.9,373.9 410.2,361.4 C408.5,348.9 409.1,347.4 407.0,339.5 C404.9,331.6 405.9,333.4 402.3,331.7 C398.7,330.0 396.5,335.3 393.6,333.2 C390.7,331.1 390.7,329.3 391.4,323.9 C392.1,318.5 394.4,318.7 396.1,312.9 C397.8,307.1 398.1,309.1 397.7,302.0 C397.3,294.9 395.8,293.5 394.5,286.4 C393.2,279.3 397.6,278.6 393.0,275.4 C388.4,272.2 384.8,276.6 377.3,274.5 C369.8,272.4 371.5,269.6 364.8,267.6 C358.1,265.6 358.2,266.5 352.3,267.0 C346.4,267.5 350.8,267.7 342.5,269.4 C334.2,271.1 333.2,272.1 321.0,273.5 C308.8,274.9 312.4,274.3 296.6,274.6 C280.8,274.9 280.3,277.2 261.6,274.6 C242.9,272.0 241.2,269.8 226.6,265.0 C212.0,260.2 214.0,258.4 207.0,256.5 C200.0,254.6 201.6,253.1 200.3,258.0 C199.0,262.9 199.7,261.5 202.0,275.0 C204.3,288.5 202.4,290.4 209.0,308.7 C215.6,327.0 216.1,325.0 226.6,343.7 C237.1,362.4 236.7,363.5 248.4,378.7 C260.1,393.9 262.5,392.0 270.3,400.6 C278.1,409.2 279.7,407.7 277.5,411.0 C275.3,414.3 269.8,412.9 262.0,413.0 C254.2,413.1 254.9,413.6 248.4,411.5 C241.9,409.4 245.7,414.9 237.5,405.0 C229.3,395.1 230.0,394.2 217.8,374.4 C205.6,354.6 203.3,350.4 191.6,330.6 C179.9,310.8 180.4,311.1 174.0,300.0 C167.6,288.9 170.4,285.5 167.5,289.0 C164.6,292.5 163.7,299.7 163.1,313.1 C162.5,326.5 162.4,323.1 165.3,339.4 C168.2,355.7 167.0,358.7 174.0,374.4 C181.0,390.1 185.6,388.6 191.6,398.4 C197.6,408.2 199.6,407.1 196.5,411.0 C193.4,414.9 189.5,412.9 180.0,413.0 C170.5,413.1 169.5,417.1 160.9,411.5 C152.3,405.9 153.1,408.8 147.8,391.9 C142.5,375.0 145.9,369.1 141.2,348.1 C136.5,327.1 131.4,328.3 130.3,313.1 C129.2,297.9 136.9,306.4 136.9,291.2 C136.9,276.0 139.1,276.0 130.3,256.2 C121.5,236.4 112.6,234.6 104.0,216.9 C95.4,199.2 99.7,201.2 98.0,190.0 C96.3,178.8 99.1,176.1 97.5,175.0 C95.9,173.9 94.3,174.8 92.0,186.0 C89.7,197.2 87.2,200.5 88.7,216.9 C90.2,233.3 94.6,232.4 97.5,247.5 C100.4,262.6 102.6,258.5 99.7,273.7 C96.8,288.9 92.8,290.7 86.5,304.4 C80.2,318.1 78.8,319.5 76.0,325.0 Z"/>
<path d="M422.7,277.0 C426.5,277.1 429.5,277.1 437.0,277.5 C444.5,277.9 448.4,276.1 450.8,278.5 C453.2,280.9 450.0,282.5 446.1,286.4 C442.2,290.3 441.8,289.3 436.0,293.0 C430.2,296.7 427.3,298.4 424.2,300.4 Z" fill="#fff"/>
<ellipse cx="616" cy="233.3" rx="4" ry="2"/>
</g>
<g transform="translate(20,445) scale(0.23359)" fill="#000">
<path d="M82.0,218.0 C83.4,215.0 82.6,210.4 88.0,205.0 C93.4,199.6 96.4,199.7 105.0,195.0 C113.6,190.3 116.8,191.3 125.0,185.0 C133.2,178.7 133.0,174.3 140.0,168.0 C147.0,161.7 143.3,161.7 155.0,158.0 C166.7,154.3 172.5,154.3 190.0,152.0 C207.5,149.7 211.3,150.8 230.0,148.0 C248.7,145.2 249.0,143.7 270.0,140.0 C291.0,136.3 296.7,133.9 320.0,132.0 C343.3,130.1 349.0,132.9 370.0,132.0 C391.0,131.1 393.7,130.3 410.0,128.0 C426.3,125.7 424.8,122.7 440.0,122.0 C455.2,121.3 462.2,127.3 475.0,125.0 C487.8,122.7 487.1,117.4 495.0,112.0 C502.9,106.6 503.2,102.9 509.0,102.0 C514.8,101.1 511.6,103.8 520.0,108.0 C528.4,112.2 533.3,113.0 545.0,120.0 C556.7,127.0 559.5,129.8 570.0,138.0 C580.5,146.2 582.3,147.1 590.0,155.0 C597.7,162.9 600.4,163.8 603.0,172.0 C605.6,180.2 603.8,183.5 601.0,190.0 C598.2,196.5 595.7,194.2 591.0,200.0 C586.3,205.8 586.8,209.6 581.0,215.0 C575.2,220.4 573.5,221.6 566.0,223.0 C558.5,224.4 548.8,224.0 549.0,221.0 C549.2,218.0 560.9,215.4 567.0,210.0 C573.1,204.6 576.6,201.5 575.0,198.0 C573.4,194.5 568.2,194.5 560.0,195.0 C551.8,195.5 549.3,196.5 540.0,200.0 C530.7,203.5 529.3,204.2 520.0,210.0 C510.7,215.8 508.2,216.8 500.0,225.0 C491.8,233.2 490.8,235.7 485.0,245.0 C479.2,254.3 478.5,254.5 475.0,265.0 C471.5,275.5 473.5,277.2 470.0,290.0 C466.5,302.8 464.7,307.2 460.0,320.0 C455.3,332.8 453.5,336.1 450.0,345.0 C446.5,353.9 443.1,353.3 445.0,358.0 C446.9,362.7 454.7,360.1 458.0,365.0 C461.3,369.9 465.5,375.3 459.0,379.0 C452.5,382.7 447.3,380.5 430.0,381.0 C412.7,381.5 396.7,383.6 385.0,381.0 C373.3,378.4 380.0,379.6 380.0,370.0 C380.0,360.4 383.8,356.3 385.0,340.0 C386.2,323.7 385.0,316.3 385.0,300.0 C385.0,283.7 393.2,278.9 385.0,270.0 C376.8,261.1 367.5,266.7 350.0,262.0 C332.5,257.3 326.3,254.0 310.0,250.0 C293.7,246.0 290.5,245.0 280.0,245.0 C269.5,245.0 273.2,243.0 265.0,250.0 C256.8,257.0 254.3,263.3 245.0,275.0 C235.7,286.7 235.5,290.0 225.0,300.0 C214.5,310.0 205.8,307.5 200.0,318.0 C194.2,328.5 198.8,335.2 200.0,345.0 C201.2,354.8 200.3,354.6 205.0,360.0 C209.7,365.4 216.3,363.1 220.0,368.0 C223.7,372.9 228.0,377.3 221.0,381.0 C214.0,384.7 202.4,383.5 190.0,384.0 C177.6,384.5 172.7,390.9 168.0,383.0 C163.3,375.1 169.1,364.7 170.0,350.0 C170.9,335.3 174.3,327.5 172.0,320.0 C169.7,312.5 167.5,316.8 160.0,318.0 C152.5,319.2 145.8,318.7 140.0,325.0 C134.2,331.3 135.0,336.8 135.0,345.0 C135.0,353.2 135.3,354.6 140.0,360.0 C144.7,365.4 150.8,362.6 155.0,368.0 C159.2,373.4 163.8,378.8 158.0,383.0 C152.2,387.2 142.6,386.0 130.0,386.0 C117.4,386.0 110.5,391.4 104.0,383.0 C97.5,374.6 101.8,364.7 102.0,350.0 C102.2,335.3 100.8,331.7 105.0,320.0 C109.2,308.3 113.0,310.5 120.0,300.0 C127.0,289.5 128.5,287.8 135.0,275.0 C141.5,262.2 144.5,259.0 148.0,245.0 C151.5,231.0 153.0,219.7 150.0,215.0 C147.0,210.3 143.2,221.0 135.0,225.0 C126.8,229.0 124.3,230.4 115.0,232.0 C105.7,233.6 102.7,233.4 95.0,232.0 C87.3,230.6 85.0,227.4 82.0,226.0 Z"/>
<path d="M421.0,322.0 C420.3,327.4 419.9,334.7 418.0,345.0 C416.1,355.3 415.3,361.1 413.0,366.0 C410.7,370.9 408.0,370.9 408.0,366.0 C408.0,361.1 411.8,349.9 413.0,345.0 Z" fill="#fff"/>
</g>
<g transform="translate(50,550) scale(0.18979)" fill="#000">
<path d="M215.0,168.0 C220.3,165.3 228.9,163.3 235.0,158.0 C241.1,152.7 228.7,150.7 238.0,148.0 C247.3,145.3 260.1,145.9 270.0,148.0 C279.9,150.1 267.0,155.5 275.0,156.0 C283.0,156.5 280.0,150.3 300.0,150.0 C320.0,149.7 323.3,152.3 350.0,155.0 C376.7,157.7 377.1,157.1 400.0,160.0 C422.9,162.9 423.2,166.5 436.0,166.0 C448.8,165.5 442.7,162.0 448.0,158.0 C453.3,154.0 452.0,152.3 456.0,151.0 C460.0,149.7 462.2,150.3 463.0,153.0 C463.8,155.7 457.1,159.9 459.0,161.0 C460.9,162.1 465.5,156.7 470.0,157.0 C474.5,157.3 476.5,159.1 476.0,162.0 C475.5,164.9 467.5,165.3 468.0,168.0 C468.5,170.7 475.9,169.3 478.0,172.0 C480.1,174.7 478.9,176.4 476.0,178.0 C473.1,179.6 468.1,175.3 467.0,178.0 C465.9,180.7 472.8,184.0 472.0,188.0 C471.2,192.0 468.5,193.5 464.0,193.0 C459.5,192.5 459.8,187.9 455.0,186.0 C450.2,184.1 460.7,186.0 446.0,186.0 C431.3,186.0 425.6,187.3 400.0,186.0 C374.4,184.7 371.3,182.6 350.0,181.0 C328.7,179.4 330.7,174.9 320.0,180.0 C309.3,185.1 315.3,184.0 310.0,200.0 C304.7,216.0 303.7,218.1 300.0,240.0 C296.3,261.9 288.0,268.7 296.0,282.0 C304.0,295.3 310.3,282.5 330.0,290.0 C349.7,297.5 351.3,295.3 370.0,310.0 C388.7,324.7 384.0,327.7 400.0,345.0 C416.0,362.3 414.0,360.3 430.0,375.0 C446.0,389.7 446.7,394.7 460.0,400.0 C473.3,405.3 468.5,399.3 480.0,395.0 C491.5,390.7 494.7,384.3 503.0,384.0 C511.3,383.7 513.9,384.4 511.0,394.0 C508.1,403.6 504.0,410.1 492.0,420.0 C480.0,429.9 479.9,433.1 466.0,431.0 C452.1,428.9 457.6,422.9 440.0,412.0 C422.4,401.1 418.7,403.9 400.0,390.0 C381.3,376.1 386.0,370.1 370.0,360.0 C354.0,349.9 358.7,357.1 340.0,352.0 C321.3,346.9 315.5,346.3 300.0,341.0 C284.5,335.7 290.0,326.9 282.0,332.0 C274.0,337.1 278.5,344.5 270.0,360.0 C261.5,375.5 266.0,378.0 250.0,390.0 C234.0,402.0 231.3,395.7 210.0,405.0 C188.7,414.3 185.5,418.1 170.0,425.0 C154.5,431.9 155.7,424.3 152.0,431.0 C148.3,437.7 152.8,439.6 156.0,450.0 C159.2,460.4 165.6,463.6 164.0,470.0 C162.4,476.4 157.5,480.4 150.0,474.0 C142.5,467.6 141.6,459.1 136.0,446.0 C130.4,432.9 125.3,434.6 129.0,425.0 C132.7,415.4 133.7,422.0 150.0,410.0 C166.3,398.0 172.7,393.3 190.0,380.0 C207.3,366.7 207.0,376.0 215.0,360.0 C223.0,344.0 214.7,337.3 220.0,320.0 C225.3,302.7 229.7,308.3 235.0,295.0 C240.3,281.7 242.7,284.7 240.0,270.0 C237.3,255.3 234.3,255.5 225.0,240.0 C215.7,224.5 213.8,221.9 205.0,212.0 C196.2,202.1 200.0,202.7 192.0,203.0 C184.0,203.3 185.7,210.6 175.0,213.0 C164.3,215.4 160.8,217.6 152.0,212.0 C143.2,206.4 145.2,208.5 142.0,192.0 C138.8,175.5 142.4,168.7 140.0,150.0 C137.6,131.3 136.2,133.2 133.0,122.0 C129.8,110.8 123.5,112.8 128.0,108.0 C132.5,103.2 139.9,101.3 150.0,104.0 C160.1,106.7 161.7,110.5 166.0,118.0 C170.3,125.5 166.5,119.5 166.0,132.0 C165.5,144.5 162.4,150.9 164.0,165.0 C165.6,179.1 163.7,182.3 172.0,185.0 C180.3,187.7 188.9,177.7 195.0,175.0 Z"/>
<path d="M216.0,103.0 C218.1,100.6 218.2,98.6 223.0,95.0 C227.8,91.4 225.8,92.8 232.1,90.9 C238.4,89.0 236.7,89.1 244.0,88.6 C251.3,88.1 249.8,88.3 256.4,89.3 C263.0,90.3 260.7,89.6 266.0,92.0 C271.3,94.4 270.2,93.2 274.1,97.4 C278.0,101.6 277.1,100.7 279.0,106.0 C280.9,111.3 280.0,108.5 280.6,115.1 C281.2,121.7 281.5,120.7 281.0,128.0 C280.5,135.3 280.8,134.3 279.0,139.4 C277.2,144.5 278.1,142.4 275.0,145.0 C271.9,147.6 274.2,147.2 268.5,148.0 C262.8,148.8 263.3,147.9 256.0,147.5 C248.7,147.1 251.1,146.2 244.2,146.5 C237.3,146.8 239.1,147.9 233.0,148.5 C226.9,149.1 229.1,149.6 224.0,148.5 C218.9,147.4 219.6,147.7 216.0,145.0 C212.4,142.3 213.9,143.6 212.0,139.4 C210.1,135.2 210.2,135.9 209.5,131.0 C208.8,126.1 208.9,128.9 209.5,123.2 C210.1,117.5 210.9,115.4 211.5,112.0 Z"/>
<path d="M8,76 L440,77.2 L440,82.4 L8,81.2 Z"/>
<path d="M434,80 Q452,70 470,73 Q484,76 492,80 Q484,84.5 470,87 Q452,89.5 434,80 Z"/>
<path d="M10,65 L66,65.5 L76,79 L67,93 L22,92.5 L6,80 Z"/>
<path d="M0,82 L5,82 L11,98 L130,113 L166,119 L166,128 L128,123 L6,107 L-3,92 Z"/>
</g>
</svg>
</body></html>
